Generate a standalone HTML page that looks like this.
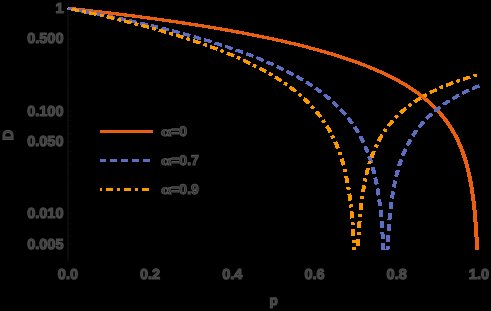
<!DOCTYPE html>
<html><head><meta charset="utf-8">
<title>D vs p</title>
<style>
html,body{margin:0;padding:0;background:#000;}
body{width:491px;height:311px;overflow:hidden;font-family:"Liberation Sans",sans-serif;}
svg{display:block;will-change:transform;}
text{font-family:"Liberation Sans",sans-serif;font-size:14.5px;font-weight:bold;fill:#3c3c3c;stroke:#4b4b4b;stroke-width:1.2px;text-rendering:geometricPrecision;}
.lg text{font-size:14px;fill:#262626;stroke:#525252;stroke-width:1.1px;}
</style></head>
<body>
<svg width="491" height="311" viewBox="0 0 491 311">
<rect width="491" height="311" fill="#000"/>
<!-- y axis + ticks (nearly invisible on black) -->
<g stroke="#0b0b0b" fill="none">
<line x1="68" y1="8" x2="68" y2="261.5" stroke-width="2"/>
<path stroke-width="1" stroke="#080808" d="M69 8.3h4.5M69 110.8h4.5M69 79.9h2.7M69 61.9h2.7M69 49.1h2.7M69 39.2h4.5M69 31.0h2.7M69 24.2h2.7M69 18.2h2.7M69 13.0h2.7M69 213.3h4.5M69 182.4h2.7M69 164.4h2.7M69 151.6h2.7M69 141.7h4.5M69 133.5h2.7M69 126.7h2.7M69 120.7h2.7M69 115.5h2.7M69 244.2h4.5M69 236.0h2.7M69 229.2h2.7M69 223.2h2.7M69 218.0h2.7"/>
</g>
<!-- curves (each drawn twice, offset +-0.4px in x, to mimic the slightly wider horizontal stroke footprint) -->
<g fill="none" stroke-width="3.2" stroke-linejoin="round" shape-rendering="crispEdges">
<g stroke="#EA5F12">
<path transform="translate(-0.4,0)" d="M67.90 8.30 L68.54 8.37 L69.17 8.44 L69.81 8.51 L70.45 8.58 L71.09 8.65 L71.72 8.72 L72.36 8.79 L73.00 8.86 L73.63 8.93 L74.27 9.00 L74.91 9.07 L75.54 9.14 L76.18 9.21 L76.82 9.28 L77.46 9.35 L78.09 9.42 L78.73 9.49 L79.37 9.56 L80.00 9.63 L80.64 9.70 L81.28 9.77 L81.92 9.84 L82.55 9.92 L83.19 9.99 L83.83 10.06 L84.46 10.13 L85.10 10.20 L85.74 10.28 L86.37 10.35 L87.01 10.42 L87.65 10.49 L88.29 10.56 L88.92 10.64 L89.56 10.71 L90.20 10.78 L90.83 10.86 L91.47 10.93 L92.11 11.00 L92.74 11.08 L93.38 11.15 L94.02 11.22 L94.66 11.30 L95.29 11.37 L95.93 11.44 L96.57 11.52 L97.20 11.59 L97.84 11.67 L98.48 11.74 L99.12 11.82 L99.75 11.89 L100.39 11.97 L101.03 12.04 L101.66 12.12 L102.30 12.19 L102.94 12.27 L103.57 12.34 L104.21 12.42 L104.85 12.49 L105.49 12.57 L106.12 12.65 L106.76 12.72 L107.40 12.80 L108.03 12.87 L108.67 12.95 L109.31 13.03 L109.95 13.10 L110.58 13.18 L111.22 13.26 L111.86 13.34 L112.49 13.41 L113.13 13.49 L113.77 13.57 L114.40 13.65 L115.04 13.72 L115.68 13.80 L116.32 13.88 L116.95 13.96 L117.59 14.04 L118.23 14.11 L118.86 14.19 L119.50 14.27 L120.14 14.35 L120.78 14.43 L121.41 14.51 L122.05 14.59 L122.69 14.67 L123.32 14.75 L123.96 14.83 L124.60 14.91 L125.23 14.99 L125.87 15.07 L126.51 15.15 L127.15 15.23 L127.78 15.31 L128.42 15.39 L129.06 15.47 L129.69 15.55 L130.33 15.63 L130.97 15.72 L131.61 15.80 L132.24 15.88 L132.88 15.96 L133.52 16.04 L134.15 16.13 L134.79 16.21 L135.43 16.29 L136.06 16.37 L136.70 16.46 L137.34 16.54 L137.98 16.62 L138.61 16.70 L139.25 16.79 L139.89 16.87 L140.52 16.96 L141.16 17.04 L141.80 17.12 L142.43 17.21 L143.07 17.29 L143.71 17.38 L144.35 17.46 L144.98 17.55 L145.62 17.63 L146.26 17.72 L146.89 17.80 L147.53 17.89 L148.17 17.97 L148.81 18.06 L149.44 18.14 L150.08 18.23 L150.70 18.31 L151.31 18.40 L151.93 18.48 L152.55 18.57 L153.16 18.65 L153.78 18.73 L154.39 18.82 L155.01 18.90 L155.63 18.99 L156.24 19.07 L156.86 19.16 L157.48 19.24 L158.09 19.33 L158.71 19.41 L159.33 19.50 L159.94 19.59 L160.56 19.67 L161.18 19.76 L161.79 19.85 L162.41 19.93 L163.03 20.02 L163.64 20.11 L164.26 20.19 L164.88 20.28 L165.49 20.37 L166.11 20.46 L166.72 20.54 L167.34 20.63 L167.96 20.72 L168.57 20.81 L169.19 20.90 L169.81 20.98 L170.42 21.07 L171.04 21.16 L171.66 21.25 L172.27 21.34 L172.89 21.43 L173.51 21.52 L174.12 21.61 L174.74 21.70 L175.36 21.79 L175.97 21.88 L176.59 21.97 L177.21 22.06 L177.82 22.15 L178.44 22.25 L179.05 22.34 L179.67 22.43 L180.29 22.52 L180.90 22.61 L181.52 22.70 L182.14 22.80 L182.75 22.89 L183.37 22.98 L183.99 23.08 L184.60 23.17 L185.22 23.26 L185.84 23.36 L186.45 23.45 L187.07 23.54 L187.69 23.64 L188.30 23.73 L188.92 23.83 L189.54 23.92 L190.15 24.02 L190.77 24.11 L191.38 24.21 L192.00 24.30 L192.62 24.40 L193.23 24.49 L193.85 24.59 L194.47 24.69 L195.08 24.78 L195.70 24.88 L196.32 24.98 L196.93 25.07 L197.55 25.17 L198.17 25.27 L198.78 25.37 L199.40 25.46 L200.02 25.56 L200.63 25.66 L201.25 25.76 L201.87 25.86 L202.48 25.96 L203.10 26.06 L203.71 26.16 L204.33 26.26 L204.95 26.36 L205.56 26.46 L206.18 26.56 L206.80 26.66 L207.41 26.76 L208.03 26.86 L208.65 26.96 L209.26 27.06 L209.88 27.17 L210.50 27.27 L211.11 27.37 L211.73 27.47 L212.35 27.58 L212.96 27.68 L213.58 27.78 L214.20 27.89 L214.81 27.99 L215.43 28.09 L216.04 28.20 L216.66 28.30 L217.28 28.41 L217.89 28.51 L218.51 28.62 L219.13 28.72 L219.74 28.83 L220.36 28.93 L220.98 29.04 L221.59 29.15 L222.21 29.25 L222.83 29.36 L223.44 29.47 L224.06 29.58 L224.66 29.68 L225.25 29.78 L225.85 29.89 L226.44 29.99 L227.04 30.10 L227.64 30.21 L228.23 30.31 L228.83 30.42 L229.42 30.52 L230.02 30.63 L230.61 30.74 L231.21 30.84 L231.81 30.95 L232.40 31.06 L233.00 31.17 L233.59 31.27 L234.19 31.38 L234.79 31.49 L235.38 31.60 L235.98 31.71 L236.57 31.82 L237.17 31.93 L237.77 32.04 L238.36 32.15 L238.96 32.26 L239.55 32.37 L240.15 32.48 L240.75 32.59 L241.34 32.70 L241.94 32.81 L242.53 32.93 L243.13 33.04 L243.73 33.15 L244.32 33.26 L244.92 33.38 L245.51 33.49 L246.11 33.60 L246.71 33.72 L247.30 33.83 L247.90 33.95 L248.49 34.06 L249.09 34.18 L249.69 34.29 L250.28 34.41 L250.88 34.53 L251.47 34.64 L252.07 34.76 L252.67 34.88 L253.26 34.99 L253.86 35.11 L254.45 35.23 L255.05 35.35 L255.64 35.47 L256.24 35.59 L256.84 35.70 L257.43 35.82 L258.03 35.94 L258.62 36.06 L259.22 36.19 L259.82 36.31 L260.41 36.43 L261.01 36.55 L261.60 36.67 L262.20 36.79 L262.80 36.92 L263.39 37.04 L263.99 37.16 L264.58 37.29 L265.18 37.41 L265.78 37.53 L266.37 37.66 L266.97 37.78 L267.56 37.91 L268.16 38.03 L268.76 38.16 L269.35 38.29 L269.95 38.41 L270.54 38.54 L271.14 38.67 L271.74 38.80 L272.33 38.92 L272.93 39.05 L273.52 39.18 L274.10 39.31 L274.67 39.43 L275.25 39.56 L275.82 39.68 L276.40 39.81 L276.98 39.94 L277.55 40.06 L278.13 40.19 L278.70 40.32 L279.28 40.45 L279.85 40.58 L280.43 40.70 L281.00 40.83 L281.58 40.96 L282.15 41.09 L282.73 41.22 L283.31 41.35 L283.88 41.49 L284.46 41.62 L285.03 41.75 L285.61 41.88 L286.18 42.01 L286.76 42.15 L287.33 42.28 L287.91 42.41 L288.48 42.55 L289.06 42.68 L289.63 42.82 L290.21 42.95 L290.79 43.09 L291.36 43.23 L291.94 43.36 L292.51 43.50 L293.09 43.64 L293.66 43.78 L294.24 43.92 L294.81 44.05 L295.39 44.19 L295.96 44.33 L296.54 44.47 L297.11 44.61 L297.69 44.76 L298.27 44.90 L298.84 45.04 L299.42 45.18 L299.99 45.32 L300.57 45.47 L301.14 45.61 L301.72 45.76 L302.29 45.90 L302.87 46.05 L303.44 46.19 L304.02 46.34 L304.59 46.48 L305.17 46.63 L305.75 46.78 L306.32 46.93 L306.90 47.08 L307.47 47.23 L308.05 47.38 L308.62 47.53 L309.18 47.67 L309.73 47.82 L310.29 47.96 L310.84 48.11 L311.40 48.26 L311.95 48.40 L312.51 48.55 L313.06 48.70 L313.62 48.85 L314.17 49.00 L314.73 49.15 L315.28 49.30 L315.84 49.45 L316.39 49.60 L316.95 49.76 L317.50 49.91 L318.06 50.06 L318.61 50.22 L319.16 50.37 L319.72 50.53 L320.27 50.68 L320.83 50.84 L321.38 50.99 L321.94 51.15 L322.49 51.31 L323.05 51.47 L323.60 51.62 L324.16 51.78 L324.71 51.94 L325.27 52.10 L325.82 52.27 L326.38 52.43 L326.93 52.59 L327.49 52.75 L328.04 52.92 L328.60 53.08 L329.15 53.24 L329.71 53.41 L330.26 53.58 L330.82 53.74 L331.37 53.91 L331.93 54.08 L332.48 54.25 L333.04 54.41 L333.59 54.58 L334.15 54.75 L334.70 54.93 L335.26 55.10 L335.79 55.26 L336.32 55.43 L336.86 55.60 L337.39 55.76 L337.93 55.93 L338.46 56.10 L339.00 56.27 L339.53 56.44 L340.06 56.61 L340.60 56.78 L341.13 56.96 L341.67 57.13 L342.20 57.30 L342.74 57.48 L343.27 57.65 L343.80 57.83 L344.34 58.00 L344.87 58.18 L345.41 58.36 L345.94 58.54 L346.48 58.72 L347.01 58.90 L347.54 59.08 L348.08 59.26 L348.61 59.44 L349.15 59.62 L349.68 59.81 L350.22 59.99 L350.75 60.18 L351.28 60.36 L351.82 60.55 L352.35 60.74 L352.89 60.93 L353.42 61.12 L353.96 61.31 L354.49 61.50 L355.02 61.69 L355.56 61.88 L356.09 62.07 L356.61 62.26 L357.12 62.45 L357.63 62.64 L358.15 62.82 L358.66 63.01 L359.18 63.21 L359.69 63.40 L360.20 63.59 L360.72 63.78 L361.23 63.98 L361.74 64.17 L362.26 64.37 L362.77 64.56 L363.29 64.76 L363.80 64.96 L364.31 65.16 L364.83 65.36 L365.34 65.56 L365.85 65.76 L366.37 65.96 L366.88 66.17 L367.40 66.37 L367.91 66.58 L368.42 66.78 L368.94 66.99 L369.45 67.20 L369.96 67.41 L370.48 67.62 L370.99 67.83 L371.51 68.04 L372.02 68.26 L372.53 68.47 L373.03 68.68 L373.52 68.89 L374.01 69.09 L374.51 69.30 L375.00 69.52 L375.49 69.73 L375.99 69.94 L376.48 70.15 L376.97 70.37 L377.47 70.58 L377.96 70.80 L378.45 71.02 L378.94 71.24 L379.44 71.46 L379.93 71.68 L380.42 71.90 L380.92 72.13 L381.41 72.35 L381.90 72.58 L382.40 72.80 L382.89 73.03 L383.38 73.26 L383.88 73.49 L384.37 73.72 L384.86 73.96 L385.36 74.19 L385.85 74.43 L386.34 74.66 L386.82 74.89 L387.29 75.12 L387.76 75.35 L388.23 75.58 L388.71 75.81 L389.18 76.05 L389.65 76.28 L390.12 76.52 L390.60 76.76 L391.07 77.00 L391.54 77.24 L392.01 77.48 L392.49 77.72 L392.96 77.96 L393.43 78.21 L393.91 78.46 L394.38 78.70 L394.85 78.95 L395.32 79.20 L395.80 79.46 L396.27 79.71 L396.74 79.97 L397.21 80.22 L397.69 80.48 L398.14 80.73 L398.59 80.98 L399.04 81.23 L399.49 81.48 L399.95 81.74 L400.40 81.99 L400.85 82.25 L401.30 82.51 L401.76 82.77 L402.21 83.03 L402.66 83.29 L403.11 83.56 L403.56 83.83 L404.02 84.09 L404.47 84.36 L404.92 84.63 L405.37 84.91 L405.82 85.18 L406.28 85.46 L406.73 85.74 L407.18 86.02 L407.61 86.28 L408.04 86.55 L408.48 86.83 L408.91 87.10 L409.34 87.38 L409.77 87.65 L410.20 87.93 L410.63 88.21 L411.06 88.49 L411.50 88.78 L411.93 89.06 L412.36 89.35 L412.79 89.64 L413.22 89.93 L413.65 90.23 L414.09 90.52 L414.52 90.82 L414.95 91.12 L415.38 91.42 L415.81 91.72 L416.22 92.01 L416.63 92.31 L417.04 92.60 L417.46 92.90 L417.87 93.20 L418.28 93.50 L418.69 93.80 L419.10 94.11 L419.51 94.41 L419.92 94.72 L420.33 95.03 L420.74 95.35 L421.15 95.66 L421.57 95.98 L421.98 96.30 L422.39 96.62 L422.80 96.95 L423.19 97.26 L423.58 97.57 L423.97 97.89 L424.36 98.21 L424.75 98.53 L425.14 98.85 L425.53 99.17 L425.92 99.50 L426.31 99.83 L426.70 100.16 L427.09 100.49 L427.48 100.83 L427.87 101.17 L428.26 101.51 L428.66 101.86 L429.05 102.20 L429.42 102.54 L429.79 102.87 L430.16 103.21 L430.53 103.55 L430.90 103.89 L431.27 104.23 L431.63 104.58 L432.00 104.93 L432.37 105.28 L432.74 105.64 L433.11 105.99 L433.48 106.36 L433.85 106.72 L434.22 107.09 L434.59 107.46 L434.94 107.81 L435.29 108.16 L435.64 108.52 L435.99 108.88 L436.34 109.25 L436.69 109.61 L437.04 109.98 L437.39 110.36 L437.74 110.73 L438.09 111.11 L438.44 111.50 L438.79 111.88 L439.14 112.27 L439.49 112.66 L439.81 113.04 L440.14 113.41 L440.47 113.79 L440.80 114.17 L441.13 114.56 L441.46 114.95 L441.79 115.34 L442.12 115.74 L442.44 116.14 L442.77 116.54 L443.10 116.95 L443.43 117.36 L443.76 117.77 L444.07 118.17 L444.38 118.56 L444.68 118.96 L444.99 119.36 L445.30 119.77 L445.61 120.18 L445.92 120.59 L446.23 121.01 L446.53 121.43 L446.84 121.86 L447.15 122.29 L447.46 122.72 L447.77 123.16 L448.05 123.58 L448.34 123.99 L448.63 124.41 L448.92 124.84 L449.21 125.27 L449.49 125.70 L449.78 126.14 L450.07 126.58 L450.36 127.03 L450.64 127.48 L450.93 127.94 L451.22 128.40 L451.51 128.86 L451.77 129.30 L452.04 129.74 L452.31 130.18 L452.58 130.63 L452.84 131.09 L453.11 131.54 L453.38 132.01 L453.64 132.48 L453.91 132.95 L454.18 133.43 L454.45 133.91 L454.71 134.40 L454.96 134.86 L455.21 135.32 L455.45 135.78 L455.70 136.25 L455.95 136.73 L456.19 137.21 L456.44 137.70 L456.69 138.19 L456.93 138.69 L457.18 139.19 L457.43 139.70 L457.67 140.21 L457.90 140.69 L458.12 141.17 L458.35 141.66 L458.58 142.15 L458.80 142.65 L459.03 143.15 L459.25 143.66 L459.48 144.17 L459.71 144.70 L459.93 145.22 L460.16 145.76 L460.38 146.30 L460.59 146.79 L460.80 147.30 L461.00 147.80 L461.21 148.32 L461.41 148.84 L461.62 149.36 L461.82 149.90 L462.03 150.44 L462.23 150.98 L462.44 151.53 L462.64 152.09 L462.85 152.66 L463.04 153.17 L463.22 153.70 L463.41 154.23 L463.59 154.76 L463.78 155.30 L463.96 155.85 L464.15 156.40 L464.33 156.96 L464.51 157.53 L464.70 158.11 L464.88 158.69 L465.07 159.28 L465.25 159.88 L465.42 160.42 L465.58 160.97 L465.75 161.52 L465.91 162.08 L466.08 162.65 L466.24 163.22 L466.41 163.81 L466.57 164.40 L466.73 164.99 L466.90 165.60 L467.06 166.21 L467.23 166.83 L467.39 167.47 L467.54 168.03 L467.68 168.59 L467.82 169.17 L467.97 169.75 L468.11 170.34 L468.26 170.94 L468.40 171.54 L468.54 172.16 L468.69 172.78 L468.83 173.41 L468.97 174.05 L469.12 174.70 L469.26 175.36 L469.41 176.03 L469.53 176.61 L469.65 177.20 L469.78 177.80 L469.90 178.40 L470.02 179.02 L470.15 179.64 L470.27 180.27 L470.39 180.91 L470.52 181.56 L470.64 182.22 L470.76 182.89 L470.89 183.57 L471.01 184.26 L471.13 184.96 L471.26 185.67 L471.36 186.28 L471.46 186.89 L471.56 187.51 L471.67 188.13 L471.77 188.77 L471.87 189.42 L471.97 190.07 L472.08 190.74 L472.18 191.41 L472.28 192.10 L472.39 192.80 L472.49 193.50 L472.59 194.22 L472.69 194.95 L472.80 195.70 L472.90 196.45 L473.00 197.22 L473.08 197.85 L473.17 198.48 L473.25 199.12 L473.33 199.78 L473.41 200.44 L473.50 201.11 L473.58 201.79 L473.66 202.49 L473.74 203.19 L473.82 203.90 L473.91 204.63 L473.99 205.37 L474.07 206.12 L474.15 206.89 L474.24 207.66 L474.32 208.45 L474.40 209.26 L474.48 210.08 L474.56 210.92 L474.65 211.77 L474.71 212.42 L474.77 213.08 L474.83 213.75 L474.89 214.43 L474.95 215.12 L475.02 215.82 L475.08 216.53 L475.14 217.25 L475.20 217.99 L475.26 218.74 L475.32 219.50 L475.39 220.27 L475.45 221.06 L475.51 221.86 L475.57 222.68 L475.63 223.51 L475.69 224.36 L475.76 225.22 L475.82 226.11 L475.88 227.01 L475.94 227.92 L476.00 228.86 L476.06 229.82 L476.13 230.80 L476.17 231.46 L476.21 232.14 L476.25 232.82 L476.29 233.52 L476.33 234.22 L476.37 234.94 L476.41 235.67 L476.45 236.41 L476.50 237.17 L476.54 237.93 L476.58 238.72 L476.62 239.51 L476.66 240.32 L476.70 241.14 L476.74 241.98 L476.78 242.84 L476.82 243.71 L476.87 244.60 L476.91 245.51 L476.95 246.44 L476.99 247.39 L477.03 248.35 L477.07 249.34 L477.10 250.00"/>
<path transform="translate(0.4,0)" d="M67.90 8.30 L68.54 8.37 L69.17 8.44 L69.81 8.51 L70.45 8.58 L71.09 8.65 L71.72 8.72 L72.36 8.79 L73.00 8.86 L73.63 8.93 L74.27 9.00 L74.91 9.07 L75.54 9.14 L76.18 9.21 L76.82 9.28 L77.46 9.35 L78.09 9.42 L78.73 9.49 L79.37 9.56 L80.00 9.63 L80.64 9.70 L81.28 9.77 L81.92 9.84 L82.55 9.92 L83.19 9.99 L83.83 10.06 L84.46 10.13 L85.10 10.20 L85.74 10.28 L86.37 10.35 L87.01 10.42 L87.65 10.49 L88.29 10.56 L88.92 10.64 L89.56 10.71 L90.20 10.78 L90.83 10.86 L91.47 10.93 L92.11 11.00 L92.74 11.08 L93.38 11.15 L94.02 11.22 L94.66 11.30 L95.29 11.37 L95.93 11.44 L96.57 11.52 L97.20 11.59 L97.84 11.67 L98.48 11.74 L99.12 11.82 L99.75 11.89 L100.39 11.97 L101.03 12.04 L101.66 12.12 L102.30 12.19 L102.94 12.27 L103.57 12.34 L104.21 12.42 L104.85 12.49 L105.49 12.57 L106.12 12.65 L106.76 12.72 L107.40 12.80 L108.03 12.87 L108.67 12.95 L109.31 13.03 L109.95 13.10 L110.58 13.18 L111.22 13.26 L111.86 13.34 L112.49 13.41 L113.13 13.49 L113.77 13.57 L114.40 13.65 L115.04 13.72 L115.68 13.80 L116.32 13.88 L116.95 13.96 L117.59 14.04 L118.23 14.11 L118.86 14.19 L119.50 14.27 L120.14 14.35 L120.78 14.43 L121.41 14.51 L122.05 14.59 L122.69 14.67 L123.32 14.75 L123.96 14.83 L124.60 14.91 L125.23 14.99 L125.87 15.07 L126.51 15.15 L127.15 15.23 L127.78 15.31 L128.42 15.39 L129.06 15.47 L129.69 15.55 L130.33 15.63 L130.97 15.72 L131.61 15.80 L132.24 15.88 L132.88 15.96 L133.52 16.04 L134.15 16.13 L134.79 16.21 L135.43 16.29 L136.06 16.37 L136.70 16.46 L137.34 16.54 L137.98 16.62 L138.61 16.70 L139.25 16.79 L139.89 16.87 L140.52 16.96 L141.16 17.04 L141.80 17.12 L142.43 17.21 L143.07 17.29 L143.71 17.38 L144.35 17.46 L144.98 17.55 L145.62 17.63 L146.26 17.72 L146.89 17.80 L147.53 17.89 L148.17 17.97 L148.81 18.06 L149.44 18.14 L150.08 18.23 L150.70 18.31 L151.31 18.40 L151.93 18.48 L152.55 18.57 L153.16 18.65 L153.78 18.73 L154.39 18.82 L155.01 18.90 L155.63 18.99 L156.24 19.07 L156.86 19.16 L157.48 19.24 L158.09 19.33 L158.71 19.41 L159.33 19.50 L159.94 19.59 L160.56 19.67 L161.18 19.76 L161.79 19.85 L162.41 19.93 L163.03 20.02 L163.64 20.11 L164.26 20.19 L164.88 20.28 L165.49 20.37 L166.11 20.46 L166.72 20.54 L167.34 20.63 L167.96 20.72 L168.57 20.81 L169.19 20.90 L169.81 20.98 L170.42 21.07 L171.04 21.16 L171.66 21.25 L172.27 21.34 L172.89 21.43 L173.51 21.52 L174.12 21.61 L174.74 21.70 L175.36 21.79 L175.97 21.88 L176.59 21.97 L177.21 22.06 L177.82 22.15 L178.44 22.25 L179.05 22.34 L179.67 22.43 L180.29 22.52 L180.90 22.61 L181.52 22.70 L182.14 22.80 L182.75 22.89 L183.37 22.98 L183.99 23.08 L184.60 23.17 L185.22 23.26 L185.84 23.36 L186.45 23.45 L187.07 23.54 L187.69 23.64 L188.30 23.73 L188.92 23.83 L189.54 23.92 L190.15 24.02 L190.77 24.11 L191.38 24.21 L192.00 24.30 L192.62 24.40 L193.23 24.49 L193.85 24.59 L194.47 24.69 L195.08 24.78 L195.70 24.88 L196.32 24.98 L196.93 25.07 L197.55 25.17 L198.17 25.27 L198.78 25.37 L199.40 25.46 L200.02 25.56 L200.63 25.66 L201.25 25.76 L201.87 25.86 L202.48 25.96 L203.10 26.06 L203.71 26.16 L204.33 26.26 L204.95 26.36 L205.56 26.46 L206.18 26.56 L206.80 26.66 L207.41 26.76 L208.03 26.86 L208.65 26.96 L209.26 27.06 L209.88 27.17 L210.50 27.27 L211.11 27.37 L211.73 27.47 L212.35 27.58 L212.96 27.68 L213.58 27.78 L214.20 27.89 L214.81 27.99 L215.43 28.09 L216.04 28.20 L216.66 28.30 L217.28 28.41 L217.89 28.51 L218.51 28.62 L219.13 28.72 L219.74 28.83 L220.36 28.93 L220.98 29.04 L221.59 29.15 L222.21 29.25 L222.83 29.36 L223.44 29.47 L224.06 29.58 L224.66 29.68 L225.25 29.78 L225.85 29.89 L226.44 29.99 L227.04 30.10 L227.64 30.21 L228.23 30.31 L228.83 30.42 L229.42 30.52 L230.02 30.63 L230.61 30.74 L231.21 30.84 L231.81 30.95 L232.40 31.06 L233.00 31.17 L233.59 31.27 L234.19 31.38 L234.79 31.49 L235.38 31.60 L235.98 31.71 L236.57 31.82 L237.17 31.93 L237.77 32.04 L238.36 32.15 L238.96 32.26 L239.55 32.37 L240.15 32.48 L240.75 32.59 L241.34 32.70 L241.94 32.81 L242.53 32.93 L243.13 33.04 L243.73 33.15 L244.32 33.26 L244.92 33.38 L245.51 33.49 L246.11 33.60 L246.71 33.72 L247.30 33.83 L247.90 33.95 L248.49 34.06 L249.09 34.18 L249.69 34.29 L250.28 34.41 L250.88 34.53 L251.47 34.64 L252.07 34.76 L252.67 34.88 L253.26 34.99 L253.86 35.11 L254.45 35.23 L255.05 35.35 L255.64 35.47 L256.24 35.59 L256.84 35.70 L257.43 35.82 L258.03 35.94 L258.62 36.06 L259.22 36.19 L259.82 36.31 L260.41 36.43 L261.01 36.55 L261.60 36.67 L262.20 36.79 L262.80 36.92 L263.39 37.04 L263.99 37.16 L264.58 37.29 L265.18 37.41 L265.78 37.53 L266.37 37.66 L266.97 37.78 L267.56 37.91 L268.16 38.03 L268.76 38.16 L269.35 38.29 L269.95 38.41 L270.54 38.54 L271.14 38.67 L271.74 38.80 L272.33 38.92 L272.93 39.05 L273.52 39.18 L274.10 39.31 L274.67 39.43 L275.25 39.56 L275.82 39.68 L276.40 39.81 L276.98 39.94 L277.55 40.06 L278.13 40.19 L278.70 40.32 L279.28 40.45 L279.85 40.58 L280.43 40.70 L281.00 40.83 L281.58 40.96 L282.15 41.09 L282.73 41.22 L283.31 41.35 L283.88 41.49 L284.46 41.62 L285.03 41.75 L285.61 41.88 L286.18 42.01 L286.76 42.15 L287.33 42.28 L287.91 42.41 L288.48 42.55 L289.06 42.68 L289.63 42.82 L290.21 42.95 L290.79 43.09 L291.36 43.23 L291.94 43.36 L292.51 43.50 L293.09 43.64 L293.66 43.78 L294.24 43.92 L294.81 44.05 L295.39 44.19 L295.96 44.33 L296.54 44.47 L297.11 44.61 L297.69 44.76 L298.27 44.90 L298.84 45.04 L299.42 45.18 L299.99 45.32 L300.57 45.47 L301.14 45.61 L301.72 45.76 L302.29 45.90 L302.87 46.05 L303.44 46.19 L304.02 46.34 L304.59 46.48 L305.17 46.63 L305.75 46.78 L306.32 46.93 L306.90 47.08 L307.47 47.23 L308.05 47.38 L308.62 47.53 L309.18 47.67 L309.73 47.82 L310.29 47.96 L310.84 48.11 L311.40 48.26 L311.95 48.40 L312.51 48.55 L313.06 48.70 L313.62 48.85 L314.17 49.00 L314.73 49.15 L315.28 49.30 L315.84 49.45 L316.39 49.60 L316.95 49.76 L317.50 49.91 L318.06 50.06 L318.61 50.22 L319.16 50.37 L319.72 50.53 L320.27 50.68 L320.83 50.84 L321.38 50.99 L321.94 51.15 L322.49 51.31 L323.05 51.47 L323.60 51.62 L324.16 51.78 L324.71 51.94 L325.27 52.10 L325.82 52.27 L326.38 52.43 L326.93 52.59 L327.49 52.75 L328.04 52.92 L328.60 53.08 L329.15 53.24 L329.71 53.41 L330.26 53.58 L330.82 53.74 L331.37 53.91 L331.93 54.08 L332.48 54.25 L333.04 54.41 L333.59 54.58 L334.15 54.75 L334.70 54.93 L335.26 55.10 L335.79 55.26 L336.32 55.43 L336.86 55.60 L337.39 55.76 L337.93 55.93 L338.46 56.10 L339.00 56.27 L339.53 56.44 L340.06 56.61 L340.60 56.78 L341.13 56.96 L341.67 57.13 L342.20 57.30 L342.74 57.48 L343.27 57.65 L343.80 57.83 L344.34 58.00 L344.87 58.18 L345.41 58.36 L345.94 58.54 L346.48 58.72 L347.01 58.90 L347.54 59.08 L348.08 59.26 L348.61 59.44 L349.15 59.62 L349.68 59.81 L350.22 59.99 L350.75 60.18 L351.28 60.36 L351.82 60.55 L352.35 60.74 L352.89 60.93 L353.42 61.12 L353.96 61.31 L354.49 61.50 L355.02 61.69 L355.56 61.88 L356.09 62.07 L356.61 62.26 L357.12 62.45 L357.63 62.64 L358.15 62.82 L358.66 63.01 L359.18 63.21 L359.69 63.40 L360.20 63.59 L360.72 63.78 L361.23 63.98 L361.74 64.17 L362.26 64.37 L362.77 64.56 L363.29 64.76 L363.80 64.96 L364.31 65.16 L364.83 65.36 L365.34 65.56 L365.85 65.76 L366.37 65.96 L366.88 66.17 L367.40 66.37 L367.91 66.58 L368.42 66.78 L368.94 66.99 L369.45 67.20 L369.96 67.41 L370.48 67.62 L370.99 67.83 L371.51 68.04 L372.02 68.26 L372.53 68.47 L373.03 68.68 L373.52 68.89 L374.01 69.09 L374.51 69.30 L375.00 69.52 L375.49 69.73 L375.99 69.94 L376.48 70.15 L376.97 70.37 L377.47 70.58 L377.96 70.80 L378.45 71.02 L378.94 71.24 L379.44 71.46 L379.93 71.68 L380.42 71.90 L380.92 72.13 L381.41 72.35 L381.90 72.58 L382.40 72.80 L382.89 73.03 L383.38 73.26 L383.88 73.49 L384.37 73.72 L384.86 73.96 L385.36 74.19 L385.85 74.43 L386.34 74.66 L386.82 74.89 L387.29 75.12 L387.76 75.35 L388.23 75.58 L388.71 75.81 L389.18 76.05 L389.65 76.28 L390.12 76.52 L390.60 76.76 L391.07 77.00 L391.54 77.24 L392.01 77.48 L392.49 77.72 L392.96 77.96 L393.43 78.21 L393.91 78.46 L394.38 78.70 L394.85 78.95 L395.32 79.20 L395.80 79.46 L396.27 79.71 L396.74 79.97 L397.21 80.22 L397.69 80.48 L398.14 80.73 L398.59 80.98 L399.04 81.23 L399.49 81.48 L399.95 81.74 L400.40 81.99 L400.85 82.25 L401.30 82.51 L401.76 82.77 L402.21 83.03 L402.66 83.29 L403.11 83.56 L403.56 83.83 L404.02 84.09 L404.47 84.36 L404.92 84.63 L405.37 84.91 L405.82 85.18 L406.28 85.46 L406.73 85.74 L407.18 86.02 L407.61 86.28 L408.04 86.55 L408.48 86.83 L408.91 87.10 L409.34 87.38 L409.77 87.65 L410.20 87.93 L410.63 88.21 L411.06 88.49 L411.50 88.78 L411.93 89.06 L412.36 89.35 L412.79 89.64 L413.22 89.93 L413.65 90.23 L414.09 90.52 L414.52 90.82 L414.95 91.12 L415.38 91.42 L415.81 91.72 L416.22 92.01 L416.63 92.31 L417.04 92.60 L417.46 92.90 L417.87 93.20 L418.28 93.50 L418.69 93.80 L419.10 94.11 L419.51 94.41 L419.92 94.72 L420.33 95.03 L420.74 95.35 L421.15 95.66 L421.57 95.98 L421.98 96.30 L422.39 96.62 L422.80 96.95 L423.19 97.26 L423.58 97.57 L423.97 97.89 L424.36 98.21 L424.75 98.53 L425.14 98.85 L425.53 99.17 L425.92 99.50 L426.31 99.83 L426.70 100.16 L427.09 100.49 L427.48 100.83 L427.87 101.17 L428.26 101.51 L428.66 101.86 L429.05 102.20 L429.42 102.54 L429.79 102.87 L430.16 103.21 L430.53 103.55 L430.90 103.89 L431.27 104.23 L431.63 104.58 L432.00 104.93 L432.37 105.28 L432.74 105.64 L433.11 105.99 L433.48 106.36 L433.85 106.72 L434.22 107.09 L434.59 107.46 L434.94 107.81 L435.29 108.16 L435.64 108.52 L435.99 108.88 L436.34 109.25 L436.69 109.61 L437.04 109.98 L437.39 110.36 L437.74 110.73 L438.09 111.11 L438.44 111.50 L438.79 111.88 L439.14 112.27 L439.49 112.66 L439.81 113.04 L440.14 113.41 L440.47 113.79 L440.80 114.17 L441.13 114.56 L441.46 114.95 L441.79 115.34 L442.12 115.74 L442.44 116.14 L442.77 116.54 L443.10 116.95 L443.43 117.36 L443.76 117.77 L444.07 118.17 L444.38 118.56 L444.68 118.96 L444.99 119.36 L445.30 119.77 L445.61 120.18 L445.92 120.59 L446.23 121.01 L446.53 121.43 L446.84 121.86 L447.15 122.29 L447.46 122.72 L447.77 123.16 L448.05 123.58 L448.34 123.99 L448.63 124.41 L448.92 124.84 L449.21 125.27 L449.49 125.70 L449.78 126.14 L450.07 126.58 L450.36 127.03 L450.64 127.48 L450.93 127.94 L451.22 128.40 L451.51 128.86 L451.77 129.30 L452.04 129.74 L452.31 130.18 L452.58 130.63 L452.84 131.09 L453.11 131.54 L453.38 132.01 L453.64 132.48 L453.91 132.95 L454.18 133.43 L454.45 133.91 L454.71 134.40 L454.96 134.86 L455.21 135.32 L455.45 135.78 L455.70 136.25 L455.95 136.73 L456.19 137.21 L456.44 137.70 L456.69 138.19 L456.93 138.69 L457.18 139.19 L457.43 139.70 L457.67 140.21 L457.90 140.69 L458.12 141.17 L458.35 141.66 L458.58 142.15 L458.80 142.65 L459.03 143.15 L459.25 143.66 L459.48 144.17 L459.71 144.70 L459.93 145.22 L460.16 145.76 L460.38 146.30 L460.59 146.79 L460.80 147.30 L461.00 147.80 L461.21 148.32 L461.41 148.84 L461.62 149.36 L461.82 149.90 L462.03 150.44 L462.23 150.98 L462.44 151.53 L462.64 152.09 L462.85 152.66 L463.04 153.17 L463.22 153.70 L463.41 154.23 L463.59 154.76 L463.78 155.30 L463.96 155.85 L464.15 156.40 L464.33 156.96 L464.51 157.53 L464.70 158.11 L464.88 158.69 L465.07 159.28 L465.25 159.88 L465.42 160.42 L465.58 160.97 L465.75 161.52 L465.91 162.08 L466.08 162.65 L466.24 163.22 L466.41 163.81 L466.57 164.40 L466.73 164.99 L466.90 165.60 L467.06 166.21 L467.23 166.83 L467.39 167.47 L467.54 168.03 L467.68 168.59 L467.82 169.17 L467.97 169.75 L468.11 170.34 L468.26 170.94 L468.40 171.54 L468.54 172.16 L468.69 172.78 L468.83 173.41 L468.97 174.05 L469.12 174.70 L469.26 175.36 L469.41 176.03 L469.53 176.61 L469.65 177.20 L469.78 177.80 L469.90 178.40 L470.02 179.02 L470.15 179.64 L470.27 180.27 L470.39 180.91 L470.52 181.56 L470.64 182.22 L470.76 182.89 L470.89 183.57 L471.01 184.26 L471.13 184.96 L471.26 185.67 L471.36 186.28 L471.46 186.89 L471.56 187.51 L471.67 188.13 L471.77 188.77 L471.87 189.42 L471.97 190.07 L472.08 190.74 L472.18 191.41 L472.28 192.10 L472.39 192.80 L472.49 193.50 L472.59 194.22 L472.69 194.95 L472.80 195.70 L472.90 196.45 L473.00 197.22 L473.08 197.85 L473.17 198.48 L473.25 199.12 L473.33 199.78 L473.41 200.44 L473.50 201.11 L473.58 201.79 L473.66 202.49 L473.74 203.19 L473.82 203.90 L473.91 204.63 L473.99 205.37 L474.07 206.12 L474.15 206.89 L474.24 207.66 L474.32 208.45 L474.40 209.26 L474.48 210.08 L474.56 210.92 L474.65 211.77 L474.71 212.42 L474.77 213.08 L474.83 213.75 L474.89 214.43 L474.95 215.12 L475.02 215.82 L475.08 216.53 L475.14 217.25 L475.20 217.99 L475.26 218.74 L475.32 219.50 L475.39 220.27 L475.45 221.06 L475.51 221.86 L475.57 222.68 L475.63 223.51 L475.69 224.36 L475.76 225.22 L475.82 226.11 L475.88 227.01 L475.94 227.92 L476.00 228.86 L476.06 229.82 L476.13 230.80 L476.17 231.46 L476.21 232.14 L476.25 232.82 L476.29 233.52 L476.33 234.22 L476.37 234.94 L476.41 235.67 L476.45 236.41 L476.50 237.17 L476.54 237.93 L476.58 238.72 L476.62 239.51 L476.66 240.32 L476.70 241.14 L476.74 241.98 L476.78 242.84 L476.82 243.71 L476.87 244.60 L476.91 245.51 L476.95 246.44 L476.99 247.39 L477.03 248.35 L477.07 249.34 L477.10 250.00"/>
</g>
<g stroke="#5D6EC2" stroke-dasharray="7 4.05" stroke-dashoffset="3.4">
<path transform="translate(-0.4,0)" d="M67.90 8.30 L68.50 8.41 L69.09 8.52 L69.69 8.63 L70.28 8.74 L70.88 8.85 L71.48 8.96 L72.07 9.07 L72.67 9.18 L73.26 9.29 L73.86 9.41 L74.46 9.52 L75.05 9.63 L75.65 9.74 L76.24 9.85 L76.84 9.97 L77.44 10.08 L78.03 10.19 L78.63 10.30 L79.22 10.42 L79.82 10.53 L80.41 10.64 L81.01 10.76 L81.61 10.87 L82.20 10.98 L82.80 11.10 L83.39 11.21 L83.99 11.33 L84.59 11.44 L85.18 11.56 L85.78 11.67 L86.37 11.79 L86.97 11.90 L87.57 12.02 L88.16 12.13 L88.76 12.25 L89.35 12.37 L89.95 12.48 L90.55 12.60 L91.14 12.72 L91.74 12.83 L92.33 12.95 L92.93 13.07 L93.53 13.19 L94.12 13.30 L94.72 13.42 L95.31 13.54 L95.91 13.66 L96.51 13.78 L97.10 13.90 L97.70 14.02 L98.29 14.13 L98.89 14.25 L99.49 14.37 L100.08 14.49 L100.68 14.61 L101.27 14.73 L101.87 14.85 L102.47 14.98 L103.06 15.10 L103.66 15.22 L104.25 15.34 L104.85 15.46 L105.44 15.58 L106.04 15.70 L106.64 15.83 L107.23 15.95 L107.83 16.07 L108.42 16.19 L109.02 16.32 L109.62 16.44 L110.21 16.57 L110.81 16.69 L111.40 16.81 L112.00 16.94 L112.60 17.06 L113.19 17.19 L113.79 17.31 L114.38 17.44 L114.98 17.56 L115.58 17.69 L116.17 17.81 L116.77 17.94 L117.36 18.07 L117.96 18.19 L118.56 18.32 L119.15 18.45 L119.75 18.57 L120.34 18.70 L120.94 18.83 L121.54 18.96 L122.13 19.09 L122.73 19.21 L123.32 19.34 L123.92 19.47 L124.49 19.60 L125.07 19.72 L125.65 19.85 L126.22 19.97 L126.80 20.10 L127.37 20.22 L127.95 20.35 L128.52 20.48 L129.10 20.60 L129.67 20.73 L130.25 20.86 L130.82 20.99 L131.40 21.11 L131.97 21.24 L132.55 21.37 L133.13 21.50 L133.70 21.63 L134.28 21.76 L134.85 21.88 L135.43 22.01 L136.00 22.14 L136.58 22.27 L137.15 22.40 L137.73 22.53 L138.30 22.66 L138.88 22.80 L139.46 22.93 L140.03 23.06 L140.61 23.19 L141.18 23.32 L141.76 23.45 L142.33 23.59 L142.91 23.72 L143.48 23.85 L144.06 23.99 L144.63 24.12 L145.21 24.25 L145.78 24.39 L146.36 24.52 L146.94 24.66 L147.51 24.79 L148.09 24.93 L148.66 25.06 L149.24 25.20 L149.81 25.33 L150.39 25.47 L150.96 25.61 L151.54 25.74 L152.11 25.88 L152.69 26.02 L153.26 26.16 L153.84 26.29 L154.42 26.43 L154.99 26.57 L155.57 26.71 L156.14 26.85 L156.72 26.99 L157.29 27.13 L157.87 27.27 L158.44 27.41 L159.02 27.55 L159.59 27.69 L160.17 27.83 L160.74 27.97 L161.32 28.12 L161.90 28.26 L162.47 28.40 L163.05 28.54 L163.62 28.69 L164.20 28.83 L164.77 28.98 L165.35 29.12 L165.92 29.26 L166.50 29.41 L167.07 29.55 L167.65 29.70 L168.23 29.85 L168.80 29.99 L169.38 30.14 L169.95 30.28 L170.53 30.43 L171.10 30.58 L171.68 30.73 L172.25 30.88 L172.83 31.02 L173.40 31.17 L173.98 31.32 L174.55 31.47 L175.13 31.62 L175.71 31.77 L176.26 31.92 L176.81 32.06 L177.37 32.21 L177.92 32.35 L178.48 32.50 L179.03 32.65 L179.59 32.80 L180.14 32.94 L180.70 33.09 L181.25 33.24 L181.81 33.39 L182.36 33.54 L182.92 33.69 L183.47 33.84 L184.03 33.99 L184.58 34.14 L185.14 34.29 L185.69 34.44 L186.25 34.59 L186.80 34.74 L187.36 34.89 L187.91 35.05 L188.47 35.20 L189.02 35.35 L189.58 35.51 L190.13 35.66 L190.69 35.81 L191.24 35.97 L191.80 36.12 L192.35 36.28 L192.91 36.43 L193.46 36.59 L194.02 36.75 L194.57 36.91 L195.13 37.06 L195.68 37.22 L196.23 37.38 L196.79 37.54 L197.34 37.70 L197.90 37.86 L198.45 38.02 L199.01 38.18 L199.56 38.34 L200.12 38.50 L200.67 38.66 L201.23 38.82 L201.78 38.98 L202.34 39.15 L202.89 39.31 L203.45 39.47 L204.00 39.64 L204.56 39.80 L205.11 39.97 L205.67 40.13 L206.22 40.30 L206.78 40.46 L207.33 40.63 L207.89 40.80 L208.44 40.97 L209.00 41.13 L209.55 41.30 L210.11 41.47 L210.66 41.64 L211.22 41.81 L211.77 41.98 L212.33 42.15 L212.88 42.32 L213.44 42.50 L213.97 42.66 L214.50 42.83 L215.04 42.99 L215.57 43.16 L216.11 43.33 L216.64 43.50 L217.18 43.67 L217.71 43.84 L218.24 44.01 L218.78 44.18 L219.31 44.35 L219.85 44.52 L220.38 44.69 L220.92 44.86 L221.45 45.03 L221.98 45.21 L222.52 45.38 L223.05 45.55 L223.59 45.73 L224.12 45.90 L224.66 46.08 L225.19 46.25 L225.72 46.43 L226.26 46.61 L226.79 46.79 L227.33 46.96 L227.86 47.14 L228.40 47.32 L228.93 47.50 L229.46 47.68 L230.00 47.86 L230.53 48.04 L231.07 48.22 L231.60 48.41 L232.14 48.59 L232.67 48.77 L233.20 48.96 L233.74 49.14 L234.27 49.33 L234.81 49.51 L235.34 49.70 L235.88 49.89 L236.41 50.07 L236.94 50.26 L237.48 50.45 L238.01 50.64 L238.55 50.83 L239.08 51.02 L239.62 51.21 L240.15 51.40 L240.68 51.59 L241.22 51.79 L241.75 51.98 L242.27 52.17 L242.78 52.36 L243.29 52.54 L243.81 52.73 L244.32 52.92 L244.84 53.11 L245.35 53.30 L245.86 53.49 L246.38 53.68 L246.89 53.88 L247.40 54.07 L247.92 54.26 L248.43 54.46 L248.95 54.65 L249.46 54.85 L249.97 55.04 L250.49 55.24 L251.00 55.44 L251.51 55.63 L252.03 55.83 L252.54 56.03 L253.06 56.23 L253.57 56.43 L254.08 56.63 L254.60 56.84 L255.11 57.04 L255.62 57.24 L256.14 57.45 L256.65 57.65 L257.17 57.86 L257.68 58.06 L258.19 58.27 L258.71 58.48 L259.22 58.69 L259.73 58.90 L260.25 59.11 L260.76 59.32 L261.28 59.53 L261.79 59.74 L262.30 59.96 L262.82 60.17 L263.33 60.38 L263.82 60.59 L264.32 60.80 L264.81 61.01 L265.30 61.22 L265.80 61.43 L266.29 61.64 L266.78 61.85 L267.28 62.06 L267.77 62.28 L268.26 62.49 L268.76 62.70 L269.25 62.92 L269.74 63.14 L270.24 63.35 L270.73 63.57 L271.22 63.79 L271.71 64.01 L272.21 64.23 L272.70 64.45 L273.19 64.68 L273.69 64.90 L274.18 65.12 L274.67 65.35 L275.17 65.57 L275.66 65.80 L276.15 66.03 L276.65 66.26 L277.14 66.49 L277.63 66.72 L278.13 66.95 L278.62 67.18 L279.11 67.41 L279.61 67.65 L280.10 67.88 L280.59 68.12 L281.07 68.35 L281.54 68.58 L282.01 68.81 L282.48 69.04 L282.96 69.27 L283.43 69.50 L283.90 69.73 L284.37 69.97 L284.85 70.20 L285.32 70.44 L285.79 70.67 L286.26 70.91 L286.74 71.15 L287.21 71.39 L287.68 71.63 L288.15 71.88 L288.63 72.12 L289.10 72.36 L289.57 72.61 L290.05 72.86 L290.52 73.10 L290.99 73.35 L291.46 73.60 L291.94 73.85 L292.41 74.11 L292.88 74.36 L293.35 74.61 L293.83 74.87 L294.30 75.13 L294.77 75.39 L295.22 75.63 L295.68 75.88 L296.13 76.13 L296.58 76.38 L297.03 76.64 L297.48 76.89 L297.94 77.15 L298.39 77.40 L298.84 77.66 L299.29 77.92 L299.75 78.18 L300.20 78.44 L300.65 78.70 L301.10 78.97 L301.55 79.23 L302.01 79.50 L302.46 79.77 L302.91 80.04 L303.36 80.31 L303.81 80.58 L304.27 80.85 L304.72 81.13 L305.17 81.40 L305.62 81.68 L306.07 81.96 L306.53 82.24 L306.96 82.51 L307.39 82.78 L307.82 83.05 L308.25 83.32 L308.68 83.60 L309.12 83.87 L309.55 84.15 L309.98 84.43 L310.41 84.71 L310.84 84.99 L311.27 85.27 L311.71 85.56 L312.14 85.85 L312.57 86.13 L313.00 86.42 L313.43 86.71 L313.86 87.01 L314.29 87.30 L314.73 87.60 L315.16 87.89 L315.59 88.19 L316.02 88.49 L316.45 88.80 L316.86 89.09 L317.27 89.38 L317.69 89.67 L318.10 89.97 L318.51 90.26 L318.92 90.56 L319.33 90.86 L319.74 91.16 L320.15 91.47 L320.56 91.77 L320.97 92.08 L321.38 92.39 L321.80 92.70 L322.21 93.01 L322.62 93.33 L323.03 93.64 L323.44 93.96 L323.85 94.28 L324.26 94.60 L324.67 94.93 L325.06 95.24 L325.45 95.55 L325.84 95.86 L326.23 96.18 L326.62 96.50 L327.01 96.82 L327.41 97.14 L327.80 97.46 L328.19 97.79 L328.58 98.12 L328.97 98.45 L329.36 98.78 L329.75 99.11 L330.14 99.45 L330.53 99.79 L330.92 100.13 L331.31 100.47 L331.70 100.82 L332.09 101.16 L332.46 101.50 L332.83 101.83 L333.20 102.17 L333.57 102.51 L333.94 102.85 L334.31 103.19 L334.68 103.53 L335.05 103.88 L335.42 104.23 L335.79 104.59 L336.16 104.94 L336.53 105.30 L336.90 105.66 L337.27 106.02 L337.64 106.39 L338.01 106.75 L338.38 107.13 L338.73 107.48 L339.08 107.83 L339.43 108.19 L339.78 108.55 L340.13 108.91 L340.48 109.28 L340.82 109.65 L341.17 110.02 L341.52 110.39 L341.87 110.77 L342.22 111.15 L342.57 111.53 L342.92 111.92 L343.27 112.31 L343.62 112.70 L343.95 113.07 L344.28 113.44 L344.61 113.82 L344.93 114.20 L345.26 114.58 L345.59 114.97 L345.92 115.36 L346.25 115.75 L346.58 116.15 L346.91 116.54 L347.24 116.95 L347.56 117.35 L347.89 117.76 L348.22 118.17 L348.55 118.59 L348.86 118.98 L349.17 119.37 L349.48 119.77 L349.78 120.17 L350.09 120.58 L350.40 120.99 L350.71 121.40 L351.02 121.82 L351.33 122.24 L351.63 122.66 L351.94 123.09 L352.25 123.52 L352.56 123.95 L352.87 124.39 L353.15 124.80 L353.44 125.22 L353.73 125.64 L354.02 126.06 L354.31 126.49 L354.59 126.92 L354.88 127.36 L355.17 127.80 L355.46 128.24 L355.74 128.69 L356.03 129.14 L356.32 129.59 L356.61 130.05 L356.89 130.52 L357.16 130.95 L357.43 131.39 L357.70 131.83 L357.96 132.28 L358.23 132.73 L358.50 133.19 L358.76 133.65 L359.03 134.12 L359.30 134.58 L359.57 135.06 L359.83 135.54 L360.10 136.02 L360.37 136.51 L360.61 136.97 L360.86 137.43 L361.11 137.89 L361.35 138.36 L361.60 138.83 L361.85 139.31 L362.09 139.80 L362.34 140.28 L362.59 140.78 L362.83 141.28 L363.08 141.78 L363.33 142.29 L363.57 142.80 L363.80 143.28 L364.03 143.76 L364.25 144.25 L364.48 144.74 L364.70 145.24 L364.93 145.74 L365.16 146.25 L365.38 146.76 L365.61 147.28 L365.83 147.81 L366.06 148.34 L366.29 148.87 L366.51 149.42 L366.72 149.92 L366.92 150.42 L367.13 150.93 L367.33 151.45 L367.54 151.97 L367.75 152.50 L367.95 153.03 L368.16 153.57 L368.36 154.12 L368.57 154.67 L368.77 155.23 L368.98 155.79 L369.16 156.31 L369.35 156.83 L369.53 157.36 L369.72 157.89 L369.90 158.43 L370.09 158.97 L370.27 159.52 L370.46 160.08 L370.64 160.65 L370.83 161.22 L371.01 161.80 L371.20 162.39 L371.38 162.98 L371.57 163.58 L371.73 164.13 L371.90 164.67 L372.06 165.23 L372.22 165.79 L372.39 166.36 L372.55 166.93 L372.72 167.52 L372.88 168.11 L373.05 168.70 L373.21 169.31 L373.38 169.92 L373.54 170.55 L373.70 171.18 L373.85 171.74 L373.99 172.30 L374.14 172.88 L374.28 173.46 L374.42 174.04 L374.57 174.64 L374.71 175.24 L374.86 175.85 L375.00 176.47 L375.14 177.10 L375.29 177.74 L375.43 178.38 L375.57 179.04 L375.72 179.70 L375.84 180.28 L375.97 180.86 L376.09 181.46 L376.21 182.06 L376.33 182.66 L376.46 183.28 L376.58 183.90 L376.70 184.54 L376.83 185.18 L376.95 185.83 L377.07 186.49 L377.20 187.16 L377.32 187.84 L377.44 188.53 L377.57 189.23 L377.69 189.95 L377.79 190.55 L377.90 191.16 L378.00 191.78 L378.10 192.41 L378.21 193.04 L378.31 193.69 L378.41 194.34 L378.51 195.01 L378.62 195.68 L378.72 196.36 L378.82 197.06 L378.92 197.76 L379.03 198.48 L379.13 199.21 L379.23 199.95 L379.34 200.70 L379.44 201.46 L379.52 202.08 L379.60 202.71 L379.68 203.35 L379.77 204.00 L379.85 204.66 L379.93 205.33 L380.01 206.00 L380.10 206.69 L380.18 207.39 L380.26 208.10 L380.34 208.82 L380.42 209.55 L380.51 210.29 L380.59 211.05 L380.67 211.82 L380.75 212.60 L380.84 213.40 L380.92 214.21 L381.00 215.03 L381.08 215.87 L381.14 216.52 L381.21 217.17 L381.27 217.83 L381.33 218.50 L381.39 219.18 L381.45 219.87 L381.51 220.57 L381.58 221.28 L381.64 222.00 L381.70 222.74 L381.76 223.49 L381.82 224.25 L381.88 225.02 L381.95 225.81 L382.01 226.61 L382.07 227.42 L382.13 228.25 L382.19 229.10 L382.25 229.96 L382.32 230.84 L382.38 231.74 L382.44 232.65 L382.50 233.59 L382.56 234.54 L382.62 235.52 L382.66 236.18 L382.71 236.85 L382.75 237.53 L382.79 238.22 L382.83 238.93 L382.87 239.64 L382.91 240.37 L382.95 241.11 L382.99 241.86 L383.03 242.62 L383.08 243.40 L383.12 244.19 L383.16 244.99 L383.20 245.81 L383.24 246.64 L383.28 247.49 L383.32 248.36 L383.36 249.24 L383.40 250.00 M387.45 250.00 L387.49 249.12 L387.53 248.25 L387.58 247.39 L387.62 246.56 L387.66 245.73 L387.70 244.93 L387.74 244.13 L387.78 243.35 L387.82 242.59 L387.86 241.84 L387.90 241.10 L387.95 240.37 L387.99 239.65 L388.03 238.95 L388.07 238.26 L388.11 237.57 L388.15 236.90 L388.19 236.24 L388.25 235.27 L388.32 234.31 L388.38 233.38 L388.44 232.46 L388.50 231.57 L388.56 230.69 L388.62 229.83 L388.69 228.98 L388.75 228.16 L388.81 227.34 L388.87 226.54 L388.93 225.76 L388.99 224.99 L389.06 224.23 L389.12 223.49 L389.18 222.76 L389.24 222.04 L389.30 221.33 L389.36 220.63 L389.43 219.94 L389.49 219.27 L389.55 218.60 L389.61 217.95 L389.67 217.30 L389.75 216.45 L389.84 215.62 L389.92 214.81 L390.00 214.01 L390.08 213.22 L390.17 212.45 L390.25 211.69 L390.33 210.94 L390.41 210.21 L390.49 209.49 L390.58 208.78 L390.66 208.08 L390.74 207.39 L390.82 206.71 L390.90 206.05 L390.99 205.39 L391.07 204.74 L391.15 204.11 L391.23 203.48 L391.32 202.86 L391.42 202.09 L391.52 201.35 L391.62 200.61 L391.73 199.88 L391.83 199.17 L391.93 198.47 L392.04 197.78 L392.14 197.10 L392.24 196.43 L392.34 195.77 L392.45 195.12 L392.55 194.48 L392.65 193.85 L392.75 193.23 L392.86 192.62 L392.96 192.02 L393.08 191.30 L393.21 190.60 L393.33 189.91 L393.45 189.23 L393.58 188.56 L393.70 187.90 L393.82 187.25 L393.95 186.61 L394.07 185.98 L394.19 185.35 L394.32 184.74 L394.44 184.14 L394.56 183.54 L394.69 182.95 L394.81 182.37 L394.95 181.70 L395.10 181.05 L395.24 180.40 L395.38 179.76 L395.53 179.13 L395.67 178.51 L395.82 177.90 L395.96 177.30 L396.10 176.71 L396.25 176.12 L396.39 175.54 L396.54 174.97 L396.68 174.41 L396.84 173.77 L397.01 173.15 L397.17 172.53 L397.34 171.92 L397.50 171.33 L397.67 170.73 L397.83 170.15 L397.99 169.58 L398.16 169.01 L398.32 168.45 L398.49 167.90 L398.65 167.35 L398.82 166.81 L399.00 166.21 L399.19 165.62 L399.37 165.04 L399.56 164.47 L399.74 163.90 L399.93 163.34 L400.11 162.79 L400.30 162.24 L400.48 161.71 L400.67 161.18 L400.85 160.65 L401.04 160.13 L401.24 159.56 L401.45 159.00 L401.65 158.45 L401.86 157.90 L402.06 157.36 L402.27 156.83 L402.47 156.30 L402.68 155.78 L402.89 155.27 L403.09 154.76 L403.30 154.26 L403.50 153.77 L403.73 153.23 L403.95 152.70 L404.18 152.17 L404.41 151.66 L404.63 151.14 L404.86 150.64 L405.08 150.14 L405.31 149.64 L405.54 149.16 L405.76 148.67 L405.99 148.20 L406.24 147.68 L406.48 147.17 L406.73 146.67 L406.98 146.18 L407.22 145.69 L407.47 145.20 L407.71 144.72 L407.96 144.25 L408.21 143.78 L408.45 143.32 L408.70 142.86 L408.97 142.37 L409.24 141.89 L409.50 141.41 L409.77 140.93 L410.04 140.47 L410.30 140.00 L410.57 139.55 L410.84 139.09 L411.11 138.65 L411.37 138.20 L411.64 137.76 L411.91 137.33 L412.19 136.87 L412.48 136.41 L412.77 135.96 L413.06 135.51 L413.35 135.07 L413.63 134.64 L413.92 134.20 L414.21 133.78 L414.50 133.35 L414.78 132.93 L415.07 132.52 L415.38 132.08 L415.69 131.64 L416.00 131.21 L416.30 130.79 L416.61 130.37 L416.92 129.95 L417.23 129.54 L417.54 129.13 L417.85 128.72 L418.15 128.32 L418.46 127.93 L418.77 127.53 L419.10 127.12 L419.43 126.71 L419.76 126.30 L420.09 125.90 L420.41 125.50 L420.74 125.11 L421.07 124.72 L421.40 124.33 L421.73 123.95 L422.06 123.57 L422.39 123.19 L422.72 122.82 L423.07 122.43 L423.41 122.04 L423.76 121.66 L424.11 121.28 L424.46 120.90 L424.81 120.53 L425.16 120.16 L425.51 119.79 L425.86 119.43 L426.21 119.07 L426.56 118.72 L426.91 118.36 L427.28 117.99 L427.65 117.63 L428.02 117.26 L428.39 116.90 L428.76 116.55 L429.13 116.20 L429.50 115.85 L429.87 115.50 L430.24 115.15 L430.61 114.81 L430.98 114.48 L431.35 114.14 L431.72 113.81 L432.11 113.46 L432.50 113.12 L432.89 112.78 L433.28 112.44 L433.67 112.11 L434.06 111.77 L434.45 111.44 L434.84 111.12 L435.23 110.80 L435.62 110.47 L436.01 110.16 L436.40 109.84 L436.79 109.53 L437.18 109.22 L437.59 108.89 L438.01 108.57 L438.42 108.26 L438.83 107.94 L439.24 107.63 L439.65 107.32 L440.06 107.01 L440.47 106.71 L440.88 106.40 L441.29 106.10 L441.70 105.80 L442.12 105.51 L442.53 105.22 L442.94 104.93 L443.37 104.62 L443.80 104.32 L444.23 104.03 L444.66 103.73 L445.10 103.44 L445.53 103.15 L445.96 102.86 L446.39 102.57 L446.82 102.29 L447.25 102.01 L447.68 101.73 L448.12 101.45 L448.55 101.18 L448.98 100.90 L449.41 100.63 L449.84 100.36 L450.29 100.08 L450.75 99.81 L451.20 99.53 L451.65 99.26 L452.10 98.99 L452.55 98.72 L453.01 98.45 L453.46 98.19 L453.91 97.93 L454.36 97.66 L454.82 97.41 L455.27 97.15 L455.72 96.89 L456.17 96.64 L456.62 96.39 L457.08 96.14 L457.55 95.88 L458.02 95.62 L458.49 95.37 L458.97 95.12 L459.44 94.86 L459.91 94.61 L460.38 94.37 L460.86 94.12 L461.33 93.88 L461.80 93.63 L462.28 93.39 L462.75 93.15 L463.22 92.92 L463.69 92.68 L464.17 92.45 L464.64 92.22 L465.11 91.99 L465.58 91.76 L466.06 91.53 L466.55 91.29 L467.04 91.06 L467.54 90.83 L468.03 90.60 L468.52 90.37 L469.02 90.14 L469.51 89.91 L470.00 89.69 L470.50 89.47 L470.99 89.24 L471.48 89.02 L471.97 88.81 L472.47 88.59 L472.96 88.37 L473.45 88.16 L473.95 87.95 L474.44 87.74 L474.93 87.53 L475.43 87.32 L475.92 87.11 L476.43 86.90 L476.95 86.68 L477.46 86.47 L477.98 86.26 L478.49 86.05 L478.90 85.89"/>
<path transform="translate(0.4,0)" d="M67.90 8.30 L68.50 8.41 L69.09 8.52 L69.69 8.63 L70.28 8.74 L70.88 8.85 L71.48 8.96 L72.07 9.07 L72.67 9.18 L73.26 9.29 L73.86 9.41 L74.46 9.52 L75.05 9.63 L75.65 9.74 L76.24 9.85 L76.84 9.97 L77.44 10.08 L78.03 10.19 L78.63 10.30 L79.22 10.42 L79.82 10.53 L80.41 10.64 L81.01 10.76 L81.61 10.87 L82.20 10.98 L82.80 11.10 L83.39 11.21 L83.99 11.33 L84.59 11.44 L85.18 11.56 L85.78 11.67 L86.37 11.79 L86.97 11.90 L87.57 12.02 L88.16 12.13 L88.76 12.25 L89.35 12.37 L89.95 12.48 L90.55 12.60 L91.14 12.72 L91.74 12.83 L92.33 12.95 L92.93 13.07 L93.53 13.19 L94.12 13.30 L94.72 13.42 L95.31 13.54 L95.91 13.66 L96.51 13.78 L97.10 13.90 L97.70 14.02 L98.29 14.13 L98.89 14.25 L99.49 14.37 L100.08 14.49 L100.68 14.61 L101.27 14.73 L101.87 14.85 L102.47 14.98 L103.06 15.10 L103.66 15.22 L104.25 15.34 L104.85 15.46 L105.44 15.58 L106.04 15.70 L106.64 15.83 L107.23 15.95 L107.83 16.07 L108.42 16.19 L109.02 16.32 L109.62 16.44 L110.21 16.57 L110.81 16.69 L111.40 16.81 L112.00 16.94 L112.60 17.06 L113.19 17.19 L113.79 17.31 L114.38 17.44 L114.98 17.56 L115.58 17.69 L116.17 17.81 L116.77 17.94 L117.36 18.07 L117.96 18.19 L118.56 18.32 L119.15 18.45 L119.75 18.57 L120.34 18.70 L120.94 18.83 L121.54 18.96 L122.13 19.09 L122.73 19.21 L123.32 19.34 L123.92 19.47 L124.49 19.60 L125.07 19.72 L125.65 19.85 L126.22 19.97 L126.80 20.10 L127.37 20.22 L127.95 20.35 L128.52 20.48 L129.10 20.60 L129.67 20.73 L130.25 20.86 L130.82 20.99 L131.40 21.11 L131.97 21.24 L132.55 21.37 L133.13 21.50 L133.70 21.63 L134.28 21.76 L134.85 21.88 L135.43 22.01 L136.00 22.14 L136.58 22.27 L137.15 22.40 L137.73 22.53 L138.30 22.66 L138.88 22.80 L139.46 22.93 L140.03 23.06 L140.61 23.19 L141.18 23.32 L141.76 23.45 L142.33 23.59 L142.91 23.72 L143.48 23.85 L144.06 23.99 L144.63 24.12 L145.21 24.25 L145.78 24.39 L146.36 24.52 L146.94 24.66 L147.51 24.79 L148.09 24.93 L148.66 25.06 L149.24 25.20 L149.81 25.33 L150.39 25.47 L150.96 25.61 L151.54 25.74 L152.11 25.88 L152.69 26.02 L153.26 26.16 L153.84 26.29 L154.42 26.43 L154.99 26.57 L155.57 26.71 L156.14 26.85 L156.72 26.99 L157.29 27.13 L157.87 27.27 L158.44 27.41 L159.02 27.55 L159.59 27.69 L160.17 27.83 L160.74 27.97 L161.32 28.12 L161.90 28.26 L162.47 28.40 L163.05 28.54 L163.62 28.69 L164.20 28.83 L164.77 28.98 L165.35 29.12 L165.92 29.26 L166.50 29.41 L167.07 29.55 L167.65 29.70 L168.23 29.85 L168.80 29.99 L169.38 30.14 L169.95 30.28 L170.53 30.43 L171.10 30.58 L171.68 30.73 L172.25 30.88 L172.83 31.02 L173.40 31.17 L173.98 31.32 L174.55 31.47 L175.13 31.62 L175.71 31.77 L176.26 31.92 L176.81 32.06 L177.37 32.21 L177.92 32.35 L178.48 32.50 L179.03 32.65 L179.59 32.80 L180.14 32.94 L180.70 33.09 L181.25 33.24 L181.81 33.39 L182.36 33.54 L182.92 33.69 L183.47 33.84 L184.03 33.99 L184.58 34.14 L185.14 34.29 L185.69 34.44 L186.25 34.59 L186.80 34.74 L187.36 34.89 L187.91 35.05 L188.47 35.20 L189.02 35.35 L189.58 35.51 L190.13 35.66 L190.69 35.81 L191.24 35.97 L191.80 36.12 L192.35 36.28 L192.91 36.43 L193.46 36.59 L194.02 36.75 L194.57 36.91 L195.13 37.06 L195.68 37.22 L196.23 37.38 L196.79 37.54 L197.34 37.70 L197.90 37.86 L198.45 38.02 L199.01 38.18 L199.56 38.34 L200.12 38.50 L200.67 38.66 L201.23 38.82 L201.78 38.98 L202.34 39.15 L202.89 39.31 L203.45 39.47 L204.00 39.64 L204.56 39.80 L205.11 39.97 L205.67 40.13 L206.22 40.30 L206.78 40.46 L207.33 40.63 L207.89 40.80 L208.44 40.97 L209.00 41.13 L209.55 41.30 L210.11 41.47 L210.66 41.64 L211.22 41.81 L211.77 41.98 L212.33 42.15 L212.88 42.32 L213.44 42.50 L213.97 42.66 L214.50 42.83 L215.04 42.99 L215.57 43.16 L216.11 43.33 L216.64 43.50 L217.18 43.67 L217.71 43.84 L218.24 44.01 L218.78 44.18 L219.31 44.35 L219.85 44.52 L220.38 44.69 L220.92 44.86 L221.45 45.03 L221.98 45.21 L222.52 45.38 L223.05 45.55 L223.59 45.73 L224.12 45.90 L224.66 46.08 L225.19 46.25 L225.72 46.43 L226.26 46.61 L226.79 46.79 L227.33 46.96 L227.86 47.14 L228.40 47.32 L228.93 47.50 L229.46 47.68 L230.00 47.86 L230.53 48.04 L231.07 48.22 L231.60 48.41 L232.14 48.59 L232.67 48.77 L233.20 48.96 L233.74 49.14 L234.27 49.33 L234.81 49.51 L235.34 49.70 L235.88 49.89 L236.41 50.07 L236.94 50.26 L237.48 50.45 L238.01 50.64 L238.55 50.83 L239.08 51.02 L239.62 51.21 L240.15 51.40 L240.68 51.59 L241.22 51.79 L241.75 51.98 L242.27 52.17 L242.78 52.36 L243.29 52.54 L243.81 52.73 L244.32 52.92 L244.84 53.11 L245.35 53.30 L245.86 53.49 L246.38 53.68 L246.89 53.88 L247.40 54.07 L247.92 54.26 L248.43 54.46 L248.95 54.65 L249.46 54.85 L249.97 55.04 L250.49 55.24 L251.00 55.44 L251.51 55.63 L252.03 55.83 L252.54 56.03 L253.06 56.23 L253.57 56.43 L254.08 56.63 L254.60 56.84 L255.11 57.04 L255.62 57.24 L256.14 57.45 L256.65 57.65 L257.17 57.86 L257.68 58.06 L258.19 58.27 L258.71 58.48 L259.22 58.69 L259.73 58.90 L260.25 59.11 L260.76 59.32 L261.28 59.53 L261.79 59.74 L262.30 59.96 L262.82 60.17 L263.33 60.38 L263.82 60.59 L264.32 60.80 L264.81 61.01 L265.30 61.22 L265.80 61.43 L266.29 61.64 L266.78 61.85 L267.28 62.06 L267.77 62.28 L268.26 62.49 L268.76 62.70 L269.25 62.92 L269.74 63.14 L270.24 63.35 L270.73 63.57 L271.22 63.79 L271.71 64.01 L272.21 64.23 L272.70 64.45 L273.19 64.68 L273.69 64.90 L274.18 65.12 L274.67 65.35 L275.17 65.57 L275.66 65.80 L276.15 66.03 L276.65 66.26 L277.14 66.49 L277.63 66.72 L278.13 66.95 L278.62 67.18 L279.11 67.41 L279.61 67.65 L280.10 67.88 L280.59 68.12 L281.07 68.35 L281.54 68.58 L282.01 68.81 L282.48 69.04 L282.96 69.27 L283.43 69.50 L283.90 69.73 L284.37 69.97 L284.85 70.20 L285.32 70.44 L285.79 70.67 L286.26 70.91 L286.74 71.15 L287.21 71.39 L287.68 71.63 L288.15 71.88 L288.63 72.12 L289.10 72.36 L289.57 72.61 L290.05 72.86 L290.52 73.10 L290.99 73.35 L291.46 73.60 L291.94 73.85 L292.41 74.11 L292.88 74.36 L293.35 74.61 L293.83 74.87 L294.30 75.13 L294.77 75.39 L295.22 75.63 L295.68 75.88 L296.13 76.13 L296.58 76.38 L297.03 76.64 L297.48 76.89 L297.94 77.15 L298.39 77.40 L298.84 77.66 L299.29 77.92 L299.75 78.18 L300.20 78.44 L300.65 78.70 L301.10 78.97 L301.55 79.23 L302.01 79.50 L302.46 79.77 L302.91 80.04 L303.36 80.31 L303.81 80.58 L304.27 80.85 L304.72 81.13 L305.17 81.40 L305.62 81.68 L306.07 81.96 L306.53 82.24 L306.96 82.51 L307.39 82.78 L307.82 83.05 L308.25 83.32 L308.68 83.60 L309.12 83.87 L309.55 84.15 L309.98 84.43 L310.41 84.71 L310.84 84.99 L311.27 85.27 L311.71 85.56 L312.14 85.85 L312.57 86.13 L313.00 86.42 L313.43 86.71 L313.86 87.01 L314.29 87.30 L314.73 87.60 L315.16 87.89 L315.59 88.19 L316.02 88.49 L316.45 88.80 L316.86 89.09 L317.27 89.38 L317.69 89.67 L318.10 89.97 L318.51 90.26 L318.92 90.56 L319.33 90.86 L319.74 91.16 L320.15 91.47 L320.56 91.77 L320.97 92.08 L321.38 92.39 L321.80 92.70 L322.21 93.01 L322.62 93.33 L323.03 93.64 L323.44 93.96 L323.85 94.28 L324.26 94.60 L324.67 94.93 L325.06 95.24 L325.45 95.55 L325.84 95.86 L326.23 96.18 L326.62 96.50 L327.01 96.82 L327.41 97.14 L327.80 97.46 L328.19 97.79 L328.58 98.12 L328.97 98.45 L329.36 98.78 L329.75 99.11 L330.14 99.45 L330.53 99.79 L330.92 100.13 L331.31 100.47 L331.70 100.82 L332.09 101.16 L332.46 101.50 L332.83 101.83 L333.20 102.17 L333.57 102.51 L333.94 102.85 L334.31 103.19 L334.68 103.53 L335.05 103.88 L335.42 104.23 L335.79 104.59 L336.16 104.94 L336.53 105.30 L336.90 105.66 L337.27 106.02 L337.64 106.39 L338.01 106.75 L338.38 107.13 L338.73 107.48 L339.08 107.83 L339.43 108.19 L339.78 108.55 L340.13 108.91 L340.48 109.28 L340.82 109.65 L341.17 110.02 L341.52 110.39 L341.87 110.77 L342.22 111.15 L342.57 111.53 L342.92 111.92 L343.27 112.31 L343.62 112.70 L343.95 113.07 L344.28 113.44 L344.61 113.82 L344.93 114.20 L345.26 114.58 L345.59 114.97 L345.92 115.36 L346.25 115.75 L346.58 116.15 L346.91 116.54 L347.24 116.95 L347.56 117.35 L347.89 117.76 L348.22 118.17 L348.55 118.59 L348.86 118.98 L349.17 119.37 L349.48 119.77 L349.78 120.17 L350.09 120.58 L350.40 120.99 L350.71 121.40 L351.02 121.82 L351.33 122.24 L351.63 122.66 L351.94 123.09 L352.25 123.52 L352.56 123.95 L352.87 124.39 L353.15 124.80 L353.44 125.22 L353.73 125.64 L354.02 126.06 L354.31 126.49 L354.59 126.92 L354.88 127.36 L355.17 127.80 L355.46 128.24 L355.74 128.69 L356.03 129.14 L356.32 129.59 L356.61 130.05 L356.89 130.52 L357.16 130.95 L357.43 131.39 L357.70 131.83 L357.96 132.28 L358.23 132.73 L358.50 133.19 L358.76 133.65 L359.03 134.12 L359.30 134.58 L359.57 135.06 L359.83 135.54 L360.10 136.02 L360.37 136.51 L360.61 136.97 L360.86 137.43 L361.11 137.89 L361.35 138.36 L361.60 138.83 L361.85 139.31 L362.09 139.80 L362.34 140.28 L362.59 140.78 L362.83 141.28 L363.08 141.78 L363.33 142.29 L363.57 142.80 L363.80 143.28 L364.03 143.76 L364.25 144.25 L364.48 144.74 L364.70 145.24 L364.93 145.74 L365.16 146.25 L365.38 146.76 L365.61 147.28 L365.83 147.81 L366.06 148.34 L366.29 148.87 L366.51 149.42 L366.72 149.92 L366.92 150.42 L367.13 150.93 L367.33 151.45 L367.54 151.97 L367.75 152.50 L367.95 153.03 L368.16 153.57 L368.36 154.12 L368.57 154.67 L368.77 155.23 L368.98 155.79 L369.16 156.31 L369.35 156.83 L369.53 157.36 L369.72 157.89 L369.90 158.43 L370.09 158.97 L370.27 159.52 L370.46 160.08 L370.64 160.65 L370.83 161.22 L371.01 161.80 L371.20 162.39 L371.38 162.98 L371.57 163.58 L371.73 164.13 L371.90 164.67 L372.06 165.23 L372.22 165.79 L372.39 166.36 L372.55 166.93 L372.72 167.52 L372.88 168.11 L373.05 168.70 L373.21 169.31 L373.38 169.92 L373.54 170.55 L373.70 171.18 L373.85 171.74 L373.99 172.30 L374.14 172.88 L374.28 173.46 L374.42 174.04 L374.57 174.64 L374.71 175.24 L374.86 175.85 L375.00 176.47 L375.14 177.10 L375.29 177.74 L375.43 178.38 L375.57 179.04 L375.72 179.70 L375.84 180.28 L375.97 180.86 L376.09 181.46 L376.21 182.06 L376.33 182.66 L376.46 183.28 L376.58 183.90 L376.70 184.54 L376.83 185.18 L376.95 185.83 L377.07 186.49 L377.20 187.16 L377.32 187.84 L377.44 188.53 L377.57 189.23 L377.69 189.95 L377.79 190.55 L377.90 191.16 L378.00 191.78 L378.10 192.41 L378.21 193.04 L378.31 193.69 L378.41 194.34 L378.51 195.01 L378.62 195.68 L378.72 196.36 L378.82 197.06 L378.92 197.76 L379.03 198.48 L379.13 199.21 L379.23 199.95 L379.34 200.70 L379.44 201.46 L379.52 202.08 L379.60 202.71 L379.68 203.35 L379.77 204.00 L379.85 204.66 L379.93 205.33 L380.01 206.00 L380.10 206.69 L380.18 207.39 L380.26 208.10 L380.34 208.82 L380.42 209.55 L380.51 210.29 L380.59 211.05 L380.67 211.82 L380.75 212.60 L380.84 213.40 L380.92 214.21 L381.00 215.03 L381.08 215.87 L381.14 216.52 L381.21 217.17 L381.27 217.83 L381.33 218.50 L381.39 219.18 L381.45 219.87 L381.51 220.57 L381.58 221.28 L381.64 222.00 L381.70 222.74 L381.76 223.49 L381.82 224.25 L381.88 225.02 L381.95 225.81 L382.01 226.61 L382.07 227.42 L382.13 228.25 L382.19 229.10 L382.25 229.96 L382.32 230.84 L382.38 231.74 L382.44 232.65 L382.50 233.59 L382.56 234.54 L382.62 235.52 L382.66 236.18 L382.71 236.85 L382.75 237.53 L382.79 238.22 L382.83 238.93 L382.87 239.64 L382.91 240.37 L382.95 241.11 L382.99 241.86 L383.03 242.62 L383.08 243.40 L383.12 244.19 L383.16 244.99 L383.20 245.81 L383.24 246.64 L383.28 247.49 L383.32 248.36 L383.36 249.24 L383.40 250.00 M387.45 250.00 L387.49 249.12 L387.53 248.25 L387.58 247.39 L387.62 246.56 L387.66 245.73 L387.70 244.93 L387.74 244.13 L387.78 243.35 L387.82 242.59 L387.86 241.84 L387.90 241.10 L387.95 240.37 L387.99 239.65 L388.03 238.95 L388.07 238.26 L388.11 237.57 L388.15 236.90 L388.19 236.24 L388.25 235.27 L388.32 234.31 L388.38 233.38 L388.44 232.46 L388.50 231.57 L388.56 230.69 L388.62 229.83 L388.69 228.98 L388.75 228.16 L388.81 227.34 L388.87 226.54 L388.93 225.76 L388.99 224.99 L389.06 224.23 L389.12 223.49 L389.18 222.76 L389.24 222.04 L389.30 221.33 L389.36 220.63 L389.43 219.94 L389.49 219.27 L389.55 218.60 L389.61 217.95 L389.67 217.30 L389.75 216.45 L389.84 215.62 L389.92 214.81 L390.00 214.01 L390.08 213.22 L390.17 212.45 L390.25 211.69 L390.33 210.94 L390.41 210.21 L390.49 209.49 L390.58 208.78 L390.66 208.08 L390.74 207.39 L390.82 206.71 L390.90 206.05 L390.99 205.39 L391.07 204.74 L391.15 204.11 L391.23 203.48 L391.32 202.86 L391.42 202.09 L391.52 201.35 L391.62 200.61 L391.73 199.88 L391.83 199.17 L391.93 198.47 L392.04 197.78 L392.14 197.10 L392.24 196.43 L392.34 195.77 L392.45 195.12 L392.55 194.48 L392.65 193.85 L392.75 193.23 L392.86 192.62 L392.96 192.02 L393.08 191.30 L393.21 190.60 L393.33 189.91 L393.45 189.23 L393.58 188.56 L393.70 187.90 L393.82 187.25 L393.95 186.61 L394.07 185.98 L394.19 185.35 L394.32 184.74 L394.44 184.14 L394.56 183.54 L394.69 182.95 L394.81 182.37 L394.95 181.70 L395.10 181.05 L395.24 180.40 L395.38 179.76 L395.53 179.13 L395.67 178.51 L395.82 177.90 L395.96 177.30 L396.10 176.71 L396.25 176.12 L396.39 175.54 L396.54 174.97 L396.68 174.41 L396.84 173.77 L397.01 173.15 L397.17 172.53 L397.34 171.92 L397.50 171.33 L397.67 170.73 L397.83 170.15 L397.99 169.58 L398.16 169.01 L398.32 168.45 L398.49 167.90 L398.65 167.35 L398.82 166.81 L399.00 166.21 L399.19 165.62 L399.37 165.04 L399.56 164.47 L399.74 163.90 L399.93 163.34 L400.11 162.79 L400.30 162.24 L400.48 161.71 L400.67 161.18 L400.85 160.65 L401.04 160.13 L401.24 159.56 L401.45 159.00 L401.65 158.45 L401.86 157.90 L402.06 157.36 L402.27 156.83 L402.47 156.30 L402.68 155.78 L402.89 155.27 L403.09 154.76 L403.30 154.26 L403.50 153.77 L403.73 153.23 L403.95 152.70 L404.18 152.17 L404.41 151.66 L404.63 151.14 L404.86 150.64 L405.08 150.14 L405.31 149.64 L405.54 149.16 L405.76 148.67 L405.99 148.20 L406.24 147.68 L406.48 147.17 L406.73 146.67 L406.98 146.18 L407.22 145.69 L407.47 145.20 L407.71 144.72 L407.96 144.25 L408.21 143.78 L408.45 143.32 L408.70 142.86 L408.97 142.37 L409.24 141.89 L409.50 141.41 L409.77 140.93 L410.04 140.47 L410.30 140.00 L410.57 139.55 L410.84 139.09 L411.11 138.65 L411.37 138.20 L411.64 137.76 L411.91 137.33 L412.19 136.87 L412.48 136.41 L412.77 135.96 L413.06 135.51 L413.35 135.07 L413.63 134.64 L413.92 134.20 L414.21 133.78 L414.50 133.35 L414.78 132.93 L415.07 132.52 L415.38 132.08 L415.69 131.64 L416.00 131.21 L416.30 130.79 L416.61 130.37 L416.92 129.95 L417.23 129.54 L417.54 129.13 L417.85 128.72 L418.15 128.32 L418.46 127.93 L418.77 127.53 L419.10 127.12 L419.43 126.71 L419.76 126.30 L420.09 125.90 L420.41 125.50 L420.74 125.11 L421.07 124.72 L421.40 124.33 L421.73 123.95 L422.06 123.57 L422.39 123.19 L422.72 122.82 L423.07 122.43 L423.41 122.04 L423.76 121.66 L424.11 121.28 L424.46 120.90 L424.81 120.53 L425.16 120.16 L425.51 119.79 L425.86 119.43 L426.21 119.07 L426.56 118.72 L426.91 118.36 L427.28 117.99 L427.65 117.63 L428.02 117.26 L428.39 116.90 L428.76 116.55 L429.13 116.20 L429.50 115.85 L429.87 115.50 L430.24 115.15 L430.61 114.81 L430.98 114.48 L431.35 114.14 L431.72 113.81 L432.11 113.46 L432.50 113.12 L432.89 112.78 L433.28 112.44 L433.67 112.11 L434.06 111.77 L434.45 111.44 L434.84 111.12 L435.23 110.80 L435.62 110.47 L436.01 110.16 L436.40 109.84 L436.79 109.53 L437.18 109.22 L437.59 108.89 L438.01 108.57 L438.42 108.26 L438.83 107.94 L439.24 107.63 L439.65 107.32 L440.06 107.01 L440.47 106.71 L440.88 106.40 L441.29 106.10 L441.70 105.80 L442.12 105.51 L442.53 105.22 L442.94 104.93 L443.37 104.62 L443.80 104.32 L444.23 104.03 L444.66 103.73 L445.10 103.44 L445.53 103.15 L445.96 102.86 L446.39 102.57 L446.82 102.29 L447.25 102.01 L447.68 101.73 L448.12 101.45 L448.55 101.18 L448.98 100.90 L449.41 100.63 L449.84 100.36 L450.29 100.08 L450.75 99.81 L451.20 99.53 L451.65 99.26 L452.10 98.99 L452.55 98.72 L453.01 98.45 L453.46 98.19 L453.91 97.93 L454.36 97.66 L454.82 97.41 L455.27 97.15 L455.72 96.89 L456.17 96.64 L456.62 96.39 L457.08 96.14 L457.55 95.88 L458.02 95.62 L458.49 95.37 L458.97 95.12 L459.44 94.86 L459.91 94.61 L460.38 94.37 L460.86 94.12 L461.33 93.88 L461.80 93.63 L462.28 93.39 L462.75 93.15 L463.22 92.92 L463.69 92.68 L464.17 92.45 L464.64 92.22 L465.11 91.99 L465.58 91.76 L466.06 91.53 L466.55 91.29 L467.04 91.06 L467.54 90.83 L468.03 90.60 L468.52 90.37 L469.02 90.14 L469.51 89.91 L470.00 89.69 L470.50 89.47 L470.99 89.24 L471.48 89.02 L471.97 88.81 L472.47 88.59 L472.96 88.37 L473.45 88.16 L473.95 87.95 L474.44 87.74 L474.93 87.53 L475.43 87.32 L475.92 87.11 L476.43 86.90 L476.95 86.68 L477.46 86.47 L477.98 86.26 L478.49 86.05 L478.90 85.89"/>
</g>
<g stroke="#FA9800" stroke-dasharray="3 3.94 7 4" stroke-dashoffset="2.8">
<path transform="translate(-0.4,0)" d="M67.90 8.30 L68.50 8.42 L69.09 8.55 L69.69 8.67 L70.28 8.79 L70.88 8.92 L71.48 9.04 L72.07 9.16 L72.67 9.29 L73.26 9.41 L73.86 9.54 L74.46 9.66 L75.05 9.79 L75.65 9.91 L76.24 10.04 L76.84 10.16 L77.44 10.29 L78.03 10.42 L78.63 10.54 L79.22 10.67 L79.82 10.80 L80.41 10.92 L81.01 11.05 L81.61 11.18 L82.20 11.31 L82.80 11.43 L83.39 11.56 L83.99 11.69 L84.59 11.82 L85.18 11.95 L85.76 12.07 L86.33 12.20 L86.91 12.32 L87.48 12.45 L88.06 12.58 L88.63 12.70 L89.21 12.83 L89.79 12.95 L90.36 13.08 L90.94 13.21 L91.51 13.33 L92.09 13.46 L92.66 13.59 L93.24 13.72 L93.81 13.84 L94.39 13.97 L94.96 14.10 L95.54 14.23 L96.12 14.36 L96.69 14.49 L97.27 14.62 L97.84 14.75 L98.42 14.88 L98.99 15.01 L99.57 15.14 L100.14 15.27 L100.72 15.40 L101.29 15.53 L101.87 15.66 L102.44 15.79 L103.02 15.93 L103.60 16.06 L104.17 16.19 L104.75 16.32 L105.32 16.46 L105.90 16.59 L106.47 16.72 L107.05 16.86 L107.62 16.99 L108.20 17.12 L108.77 17.26 L109.35 17.39 L109.92 17.53 L110.50 17.66 L111.08 17.80 L111.65 17.93 L112.23 18.07 L112.80 18.21 L113.38 18.34 L113.95 18.48 L114.53 18.62 L115.10 18.75 L115.68 18.89 L116.25 19.03 L116.83 19.17 L117.40 19.31 L117.98 19.45 L118.56 19.58 L119.13 19.72 L119.71 19.86 L120.28 20.00 L120.86 20.14 L121.43 20.28 L122.01 20.43 L122.58 20.57 L123.16 20.71 L123.73 20.85 L124.31 20.99 L124.89 21.13 L125.46 21.28 L126.04 21.42 L126.61 21.56 L127.19 21.71 L127.76 21.85 L128.34 21.99 L128.91 22.14 L129.49 22.28 L130.06 22.43 L130.64 22.57 L131.21 22.72 L131.79 22.86 L132.37 23.01 L132.94 23.16 L133.52 23.30 L134.09 23.45 L134.67 23.60 L135.24 23.75 L135.82 23.89 L136.39 24.04 L136.97 24.19 L137.54 24.34 L138.12 24.49 L138.69 24.64 L139.27 24.79 L139.85 24.94 L140.40 25.09 L140.96 25.23 L141.51 25.38 L142.06 25.53 L142.62 25.67 L143.17 25.82 L143.73 25.97 L144.28 26.11 L144.84 26.26 L145.39 26.41 L145.95 26.56 L146.50 26.71 L147.06 26.86 L147.61 27.01 L148.17 27.16 L148.72 27.31 L149.28 27.46 L149.83 27.61 L150.39 27.76 L150.94 27.91 L151.50 28.06 L152.05 28.22 L152.61 28.37 L153.16 28.52 L153.72 28.68 L154.27 28.83 L154.83 28.98 L155.38 29.14 L155.94 29.29 L156.49 29.45 L157.05 29.61 L157.60 29.76 L158.16 29.92 L158.71 30.07 L159.27 30.23 L159.82 30.39 L160.38 30.55 L160.93 30.71 L161.48 30.86 L162.04 31.02 L162.59 31.18 L163.15 31.34 L163.70 31.50 L164.26 31.66 L164.81 31.82 L165.37 31.99 L165.92 32.15 L166.48 32.31 L167.03 32.47 L167.59 32.64 L168.14 32.80 L168.70 32.96 L169.25 33.13 L169.81 33.29 L170.36 33.46 L170.92 33.62 L171.47 33.79 L172.03 33.96 L172.58 34.12 L173.14 34.29 L173.69 34.46 L174.25 34.63 L174.80 34.79 L175.36 34.96 L175.91 35.13 L176.47 35.30 L177.02 35.47 L177.58 35.64 L178.13 35.81 L178.69 35.99 L179.22 36.15 L179.75 36.32 L180.29 36.48 L180.82 36.65 L181.36 36.82 L181.89 36.99 L182.43 37.16 L182.96 37.32 L183.49 37.49 L184.03 37.66 L184.56 37.83 L185.10 38.00 L185.63 38.18 L186.17 38.35 L186.70 38.52 L187.23 38.69 L187.77 38.86 L188.30 39.04 L188.84 39.21 L189.37 39.39 L189.91 39.56 L190.44 39.74 L190.97 39.91 L191.51 40.09 L192.04 40.27 L192.58 40.44 L193.11 40.62 L193.65 40.80 L194.18 40.98 L194.71 41.16 L195.25 41.34 L195.78 41.52 L196.32 41.70 L196.85 41.88 L197.39 42.06 L197.92 42.24 L198.45 42.43 L198.99 42.61 L199.52 42.79 L200.06 42.98 L200.59 43.16 L201.13 43.35 L201.66 43.54 L202.19 43.72 L202.73 43.91 L203.26 44.10 L203.80 44.29 L204.33 44.48 L204.87 44.67 L205.40 44.86 L205.93 45.05 L206.47 45.24 L207.00 45.43 L207.54 45.62 L208.07 45.82 L208.59 46.00 L209.10 46.19 L209.61 46.38 L210.13 46.56 L210.64 46.75 L211.15 46.94 L211.67 47.13 L212.18 47.32 L212.70 47.51 L213.21 47.71 L213.72 47.90 L214.24 48.09 L214.75 48.28 L215.26 48.48 L215.78 48.67 L216.29 48.87 L216.81 49.06 L217.32 49.26 L217.83 49.46 L218.35 49.65 L218.86 49.85 L219.37 50.05 L219.89 50.25 L220.40 50.45 L220.92 50.65 L221.43 50.85 L221.94 51.06 L222.46 51.26 L222.97 51.46 L223.48 51.67 L224.00 51.87 L224.51 52.08 L225.03 52.29 L225.54 52.49 L226.05 52.70 L226.57 52.91 L227.08 53.12 L227.59 53.33 L228.11 53.54 L228.62 53.75 L229.14 53.96 L229.65 54.18 L230.16 54.39 L230.68 54.60 L231.19 54.82 L231.68 55.03 L232.18 55.24 L232.67 55.44 L233.16 55.65 L233.66 55.87 L234.15 56.08 L234.64 56.29 L235.14 56.50 L235.63 56.71 L236.12 56.93 L236.62 57.14 L237.11 57.36 L237.60 57.58 L238.10 57.79 L238.59 58.01 L239.08 58.23 L239.57 58.45 L240.07 58.67 L240.56 58.89 L241.05 59.11 L241.55 59.34 L242.04 59.56 L242.53 59.79 L243.03 60.01 L243.52 60.24 L244.01 60.47 L244.51 60.69 L245.00 60.92 L245.49 61.15 L245.99 61.38 L246.48 61.62 L246.97 61.85 L247.47 62.08 L247.96 62.32 L248.45 62.55 L248.95 62.79 L249.42 63.02 L249.89 63.25 L250.36 63.48 L250.84 63.71 L251.31 63.94 L251.78 64.17 L252.25 64.40 L252.73 64.64 L253.20 64.87 L253.67 65.11 L254.14 65.35 L254.62 65.58 L255.09 65.82 L255.56 66.06 L256.04 66.30 L256.51 66.55 L256.98 66.79 L257.45 67.03 L257.93 67.28 L258.40 67.52 L258.87 67.77 L259.34 68.02 L259.82 68.27 L260.29 68.52 L260.76 68.77 L261.23 69.02 L261.71 69.28 L262.18 69.53 L262.65 69.79 L263.12 70.05 L263.60 70.31 L264.05 70.55 L264.50 70.80 L264.95 71.05 L265.41 71.31 L265.86 71.56 L266.31 71.81 L266.76 72.07 L267.21 72.32 L267.67 72.58 L268.12 72.84 L268.57 73.10 L269.02 73.36 L269.47 73.62 L269.93 73.89 L270.38 74.15 L270.83 74.42 L271.28 74.69 L271.74 74.95 L272.19 75.22 L272.64 75.50 L273.09 75.77 L273.54 76.04 L274.00 76.32 L274.45 76.59 L274.90 76.87 L275.35 77.15 L275.80 77.43 L276.24 77.70 L276.67 77.97 L277.10 78.25 L277.53 78.52 L277.96 78.79 L278.39 79.07 L278.83 79.35 L279.26 79.63 L279.69 79.91 L280.12 80.19 L280.55 80.47 L280.98 80.76 L281.41 81.04 L281.85 81.33 L282.28 81.62 L282.71 81.91 L283.14 82.21 L283.57 82.50 L284.00 82.79 L284.44 83.09 L284.87 83.39 L285.30 83.69 L285.73 83.99 L286.14 84.28 L286.55 84.57 L286.96 84.87 L287.37 85.16 L287.79 85.46 L288.20 85.76 L288.61 86.05 L289.02 86.36 L289.43 86.66 L289.84 86.96 L290.25 87.27 L290.66 87.58 L291.07 87.89 L291.48 88.20 L291.89 88.51 L292.31 88.83 L292.72 89.14 L293.13 89.46 L293.54 89.78 L293.95 90.10 L294.36 90.43 L294.75 90.74 L295.14 91.05 L295.53 91.37 L295.92 91.68 L296.31 92.00 L296.70 92.32 L297.09 92.64 L297.48 92.96 L297.88 93.29 L298.27 93.62 L298.66 93.95 L299.05 94.28 L299.44 94.61 L299.83 94.95 L300.22 95.29 L300.61 95.63 L301.00 95.97 L301.39 96.31 L301.78 96.66 L302.15 96.99 L302.52 97.33 L302.89 97.66 L303.26 98.00 L303.63 98.34 L304.00 98.68 L304.37 99.03 L304.74 99.37 L305.11 99.72 L305.48 100.07 L305.85 100.43 L306.22 100.78 L306.59 101.14 L306.96 101.50 L307.33 101.87 L307.70 102.23 L308.07 102.60 L308.42 102.95 L308.77 103.31 L309.12 103.66 L309.47 104.02 L309.81 104.38 L310.16 104.74 L310.51 105.11 L310.86 105.48 L311.21 105.85 L311.56 106.22 L311.91 106.60 L312.26 106.98 L312.61 107.36 L312.96 107.75 L313.31 108.14 L313.66 108.53 L314.01 108.92 L314.34 109.30 L314.66 109.67 L314.99 110.05 L315.32 110.44 L315.65 110.82 L315.98 111.21 L316.31 111.60 L316.64 112.00 L316.97 112.39 L317.29 112.79 L317.62 113.20 L317.95 113.61 L318.28 114.02 L318.61 114.43 L318.94 114.85 L319.25 115.24 L319.56 115.64 L319.86 116.04 L320.17 116.45 L320.48 116.85 L320.79 117.27 L321.10 117.68 L321.40 118.10 L321.71 118.52 L322.02 118.95 L322.33 119.37 L322.64 119.81 L322.95 120.24 L323.25 120.68 L323.54 121.10 L323.83 121.52 L324.12 121.94 L324.41 122.36 L324.69 122.79 L324.98 123.23 L325.27 123.66 L325.56 124.10 L325.84 124.55 L326.13 125.00 L326.42 125.45 L326.71 125.91 L326.99 126.37 L327.28 126.83 L327.55 127.27 L327.82 127.71 L328.08 128.16 L328.35 128.61 L328.62 129.06 L328.88 129.52 L329.15 129.98 L329.42 130.44 L329.69 130.91 L329.95 131.39 L330.22 131.87 L330.49 132.35 L330.76 132.84 L331.00 133.30 L331.25 133.76 L331.49 134.23 L331.74 134.70 L331.99 135.17 L332.23 135.65 L332.48 136.13 L332.73 136.62 L332.97 137.12 L333.22 137.61 L333.47 138.12 L333.71 138.63 L333.96 139.14 L334.19 139.62 L334.41 140.10 L334.64 140.59 L334.87 141.08 L335.09 141.58 L335.32 142.08 L335.54 142.59 L335.77 143.10 L336.00 143.62 L336.22 144.15 L336.45 144.68 L336.67 145.21 L336.90 145.76 L337.11 146.25 L337.31 146.76 L337.52 147.27 L337.72 147.78 L337.93 148.30 L338.13 148.83 L338.34 149.36 L338.54 149.90 L338.75 150.45 L338.95 151.00 L339.16 151.56 L339.37 152.12 L339.57 152.69 L339.76 153.21 L339.94 153.74 L340.13 154.27 L340.31 154.81 L340.50 155.35 L340.68 155.90 L340.87 156.46 L341.05 157.02 L341.24 157.59 L341.42 158.17 L341.61 158.76 L341.79 159.35 L341.98 159.95 L342.14 160.49 L342.30 161.04 L342.47 161.59 L342.63 162.15 L342.80 162.72 L342.96 163.29 L343.13 163.87 L343.29 164.46 L343.45 165.05 L343.62 165.66 L343.78 166.27 L343.95 166.89 L344.11 167.51 L344.26 168.07 L344.40 168.63 L344.54 169.20 L344.69 169.78 L344.83 170.37 L344.98 170.96 L345.12 171.56 L345.26 172.16 L345.41 172.78 L345.55 173.40 L345.69 174.04 L345.84 174.68 L345.98 175.33 L346.13 175.99 L346.27 176.66 L346.39 177.24 L346.52 177.83 L346.64 178.43 L346.76 179.03 L346.89 179.64 L347.01 180.26 L347.13 180.89 L347.26 181.53 L347.38 182.18 L347.50 182.83 L347.63 183.50 L347.75 184.18 L347.87 184.86 L348.00 185.56 L348.12 186.27 L348.22 186.86 L348.33 187.47 L348.43 188.08 L348.53 188.71 L348.63 189.34 L348.74 189.98 L348.84 190.63 L348.94 191.28 L349.04 191.95 L349.15 192.63 L349.25 193.32 L349.35 194.02 L349.46 194.73 L349.56 195.45 L349.66 196.18 L349.76 196.92 L349.87 197.68 L349.97 198.45 L350.05 199.07 L350.13 199.71 L350.22 200.35 L350.30 201.00 L350.38 201.66 L350.46 202.34 L350.54 203.02 L350.63 203.71 L350.71 204.41 L350.79 205.12 L350.87 205.85 L350.96 206.59 L351.04 207.34 L351.12 208.10 L351.20 208.87 L351.28 209.66 L351.37 210.46 L351.45 211.28 L351.53 212.11 L351.61 212.96 L351.67 213.60 L351.74 214.26 L351.80 214.93 L351.86 215.60 L351.92 216.29 L351.98 216.98 L352.04 217.69 L352.11 218.41 L352.17 219.14 L352.23 219.88 L352.29 220.63 L352.35 221.40 L352.41 222.18 L352.48 222.97 L352.54 223.78 L352.60 224.60 L352.66 225.44 L352.72 226.30 L352.78 227.17 L352.85 228.05 L352.91 228.96 L352.97 229.88 L353.03 230.83 L353.09 231.79 L353.15 232.78 L353.20 233.45 L353.24 234.13 L353.28 234.82 L353.32 235.52 L353.36 236.23 L353.40 236.95 L353.44 237.68 L353.48 238.43 L353.52 239.19 L353.57 239.96 L353.61 240.75 L353.65 241.55 L353.69 242.36 L353.73 243.19 L353.77 244.04 L353.81 244.90 L353.85 245.78 L353.89 246.67 L353.94 247.59 L353.98 248.52 L354.02 249.48 L354.04 250.00 M357.82 250.00 L357.86 249.02 L357.90 248.09 L357.94 247.18 L357.98 246.29 L358.02 245.41 L358.07 244.55 L358.11 243.71 L358.15 242.88 L358.19 242.07 L358.23 241.27 L358.27 240.49 L358.31 239.72 L358.35 238.97 L358.39 238.22 L358.44 237.49 L358.48 236.77 L358.52 236.07 L358.56 235.37 L358.60 234.68 L358.64 234.01 L358.68 233.34 L358.74 232.37 L358.81 231.41 L358.87 230.47 L358.93 229.55 L358.99 228.65 L359.05 227.77 L359.11 226.91 L359.18 226.06 L359.24 225.23 L359.30 224.42 L359.36 223.61 L359.42 222.83 L359.48 222.06 L359.55 221.30 L359.61 220.55 L359.67 219.82 L359.73 219.09 L359.79 218.38 L359.85 217.68 L359.92 217.00 L359.98 216.32 L360.04 215.65 L360.10 215.00 L360.16 214.35 L360.24 213.50 L360.33 212.67 L360.41 211.85 L360.49 211.05 L360.57 210.26 L360.66 209.49 L360.74 208.73 L360.82 207.98 L360.90 207.24 L360.98 206.52 L361.07 205.81 L361.15 205.11 L361.23 204.42 L361.31 203.75 L361.40 203.08 L361.48 202.42 L361.56 201.77 L361.64 201.14 L361.72 200.51 L361.81 199.89 L361.91 199.12 L362.01 198.37 L362.11 197.64 L362.22 196.91 L362.32 196.20 L362.42 195.50 L362.53 194.81 L362.63 194.13 L362.73 193.46 L362.83 192.80 L362.94 192.15 L363.04 191.51 L363.14 190.88 L363.24 190.26 L363.35 189.65 L363.45 189.04 L363.57 188.33 L363.70 187.63 L363.82 186.94 L363.94 186.26 L364.07 185.59 L364.19 184.93 L364.31 184.28 L364.44 183.64 L364.56 183.01 L364.68 182.39 L364.81 181.77 L364.93 181.17 L365.05 180.57 L365.18 179.99 L365.30 179.41 L365.44 178.74 L365.59 178.08 L365.73 177.44 L365.88 176.80 L366.02 176.17 L366.16 175.56 L366.31 174.95 L366.45 174.34 L366.59 173.75 L366.74 173.17 L366.88 172.59 L367.03 172.02 L367.17 171.46 L367.33 170.83 L367.50 170.20 L367.66 169.59 L367.83 168.98 L367.99 168.38 L368.16 167.79 L368.32 167.21 L368.48 166.64 L368.65 166.07 L368.81 165.51 L368.98 164.96 L369.14 164.42 L369.31 163.88 L369.49 163.28 L369.68 162.70 L369.86 162.12 L370.05 161.54 L370.23 160.98 L370.42 160.42 L370.60 159.87 L370.79 159.33 L370.97 158.79 L371.16 158.26 L371.34 157.74 L371.53 157.23 L371.73 156.66 L371.94 156.10 L372.14 155.55 L372.35 155.00 L372.55 154.47 L372.76 153.94 L372.96 153.41 L373.17 152.90 L373.38 152.38 L373.58 151.88 L373.79 151.38 L374.01 150.84 L374.24 150.30 L374.46 149.78 L374.69 149.25 L374.92 148.74 L375.14 148.23 L375.37 147.73 L375.60 147.23 L375.82 146.74 L376.05 146.26 L376.27 145.78 L376.52 145.26 L376.77 144.75 L377.01 144.25 L377.26 143.75 L377.51 143.26 L377.75 142.77 L378.00 142.29 L378.25 141.82 L378.49 141.35 L378.74 140.88 L378.99 140.42 L379.23 139.97 L379.50 139.48 L379.77 139.00 L380.03 138.53 L380.30 138.06 L380.57 137.60 L380.84 137.14 L381.10 136.68 L381.37 136.23 L381.64 135.79 L381.90 135.35 L382.17 134.92 L382.46 134.46 L382.75 134.00 L383.03 133.55 L383.32 133.10 L383.61 132.66 L383.90 132.22 L384.19 131.79 L384.47 131.36 L384.76 130.94 L385.05 130.52 L385.34 130.11 L385.64 129.67 L385.95 129.23 L386.26 128.80 L386.57 128.38 L386.88 127.96 L387.19 127.54 L387.49 127.13 L387.80 126.72 L388.11 126.32 L388.42 125.92 L388.73 125.52 L389.06 125.11 L389.38 124.69 L389.71 124.29 L390.04 123.88 L390.37 123.48 L390.70 123.08 L391.03 122.69 L391.36 122.30 L391.69 121.92 L392.01 121.54 L392.34 121.16 L392.67 120.79 L393.02 120.40 L393.37 120.01 L393.72 119.62 L394.07 119.24 L394.42 118.87 L394.77 118.49 L395.12 118.12 L395.47 117.76 L395.82 117.39 L396.17 117.03 L396.52 116.68 L396.86 116.32 L397.23 115.96 L397.60 115.59 L397.97 115.23 L398.34 114.87 L398.71 114.51 L399.08 114.16 L399.45 113.81 L399.82 113.46 L400.19 113.12 L400.56 112.78 L400.93 112.44 L401.30 112.11 L401.67 111.78 L402.06 111.43 L402.45 111.09 L402.84 110.75 L403.23 110.42 L403.63 110.08 L404.02 109.75 L404.41 109.42 L404.80 109.10 L405.19 108.78 L405.58 108.46 L405.97 108.14 L406.36 107.83 L406.75 107.52 L407.16 107.20 L407.57 106.88 L407.98 106.56 L408.39 106.24 L408.80 105.93 L409.21 105.62 L409.63 105.31 L410.04 105.01 L410.45 104.70 L410.86 104.41 L411.27 104.11 L411.68 103.81 L412.09 103.52 L412.50 103.23 L412.93 102.93 L413.37 102.63 L413.80 102.34 L414.23 102.04 L414.66 101.75 L415.09 101.46 L415.52 101.17 L415.96 100.89 L416.39 100.61 L416.82 100.33 L417.25 100.05 L417.68 99.78 L418.11 99.50 L418.54 99.23 L418.98 98.96 L419.43 98.68 L419.88 98.41 L420.33 98.13 L420.78 97.86 L421.24 97.59 L421.69 97.32 L422.14 97.06 L422.59 96.79 L423.05 96.53 L423.50 96.27 L423.95 96.01 L424.40 95.76 L424.85 95.50 L425.31 95.25 L425.76 95.00 L426.23 94.74 L426.70 94.49 L427.18 94.23 L427.65 93.98 L428.12 93.73 L428.59 93.48 L429.07 93.23 L429.54 92.99 L430.01 92.74 L430.48 92.50 L430.96 92.26 L431.43 92.02 L431.90 91.79 L432.37 91.55 L432.85 91.32 L433.32 91.09 L433.79 90.86 L434.27 90.63 L434.76 90.40 L435.25 90.16 L435.75 89.93 L436.24 89.70 L436.73 89.47 L437.22 89.25 L437.72 89.02 L438.21 88.80 L438.70 88.57 L439.20 88.35 L439.69 88.14 L440.18 87.92 L440.68 87.70 L441.17 87.49 L441.66 87.28 L442.16 87.07 L442.65 86.86 L443.14 86.65 L443.66 86.43 L444.17 86.22 L444.68 86.01 L445.20 85.80 L445.71 85.59 L446.23 85.38 L446.74 85.17 L447.25 84.97 L447.77 84.77 L448.28 84.57 L448.79 84.37 L449.31 84.17 L449.82 83.97 L450.34 83.77 L450.85 83.58 L451.36 83.39 L451.88 83.19 L452.39 83.00 L452.90 82.81 L453.42 82.63 L453.93 82.44 L454.47 82.25 L455.00 82.06 L455.53 81.87 L456.07 81.68 L456.60 81.49 L457.14 81.30 L457.67 81.12 L458.21 80.94 L458.74 80.75 L459.27 80.57 L459.81 80.39 L460.34 80.21 L460.88 80.04 L461.41 79.86 L461.95 79.69 L462.48 79.51 L463.01 79.34 L463.55 79.17 L464.08 79.00 L464.62 78.83 L465.15 78.66 L465.69 78.49 L466.24 78.32 L466.80 78.15 L467.35 77.98 L467.91 77.81 L468.46 77.65 L469.02 77.48 L469.57 77.32 L470.13 77.15 L470.68 76.99 L471.23 76.83 L471.79 76.67 L472.34 76.51 L472.90 76.35 L473.45 76.19 L474.01 76.03 L474.56 75.88 L475.12 75.73 L475.67 75.57 L476.23 75.42 L476.78 75.27 L477.34 75.12 L477.89 74.97 L478.45 74.82 L478.90 74.70"/>
<path transform="translate(0.4,0)" d="M67.90 8.30 L68.50 8.42 L69.09 8.55 L69.69 8.67 L70.28 8.79 L70.88 8.92 L71.48 9.04 L72.07 9.16 L72.67 9.29 L73.26 9.41 L73.86 9.54 L74.46 9.66 L75.05 9.79 L75.65 9.91 L76.24 10.04 L76.84 10.16 L77.44 10.29 L78.03 10.42 L78.63 10.54 L79.22 10.67 L79.82 10.80 L80.41 10.92 L81.01 11.05 L81.61 11.18 L82.20 11.31 L82.80 11.43 L83.39 11.56 L83.99 11.69 L84.59 11.82 L85.18 11.95 L85.76 12.07 L86.33 12.20 L86.91 12.32 L87.48 12.45 L88.06 12.58 L88.63 12.70 L89.21 12.83 L89.79 12.95 L90.36 13.08 L90.94 13.21 L91.51 13.33 L92.09 13.46 L92.66 13.59 L93.24 13.72 L93.81 13.84 L94.39 13.97 L94.96 14.10 L95.54 14.23 L96.12 14.36 L96.69 14.49 L97.27 14.62 L97.84 14.75 L98.42 14.88 L98.99 15.01 L99.57 15.14 L100.14 15.27 L100.72 15.40 L101.29 15.53 L101.87 15.66 L102.44 15.79 L103.02 15.93 L103.60 16.06 L104.17 16.19 L104.75 16.32 L105.32 16.46 L105.90 16.59 L106.47 16.72 L107.05 16.86 L107.62 16.99 L108.20 17.12 L108.77 17.26 L109.35 17.39 L109.92 17.53 L110.50 17.66 L111.08 17.80 L111.65 17.93 L112.23 18.07 L112.80 18.21 L113.38 18.34 L113.95 18.48 L114.53 18.62 L115.10 18.75 L115.68 18.89 L116.25 19.03 L116.83 19.17 L117.40 19.31 L117.98 19.45 L118.56 19.58 L119.13 19.72 L119.71 19.86 L120.28 20.00 L120.86 20.14 L121.43 20.28 L122.01 20.43 L122.58 20.57 L123.16 20.71 L123.73 20.85 L124.31 20.99 L124.89 21.13 L125.46 21.28 L126.04 21.42 L126.61 21.56 L127.19 21.71 L127.76 21.85 L128.34 21.99 L128.91 22.14 L129.49 22.28 L130.06 22.43 L130.64 22.57 L131.21 22.72 L131.79 22.86 L132.37 23.01 L132.94 23.16 L133.52 23.30 L134.09 23.45 L134.67 23.60 L135.24 23.75 L135.82 23.89 L136.39 24.04 L136.97 24.19 L137.54 24.34 L138.12 24.49 L138.69 24.64 L139.27 24.79 L139.85 24.94 L140.40 25.09 L140.96 25.23 L141.51 25.38 L142.06 25.53 L142.62 25.67 L143.17 25.82 L143.73 25.97 L144.28 26.11 L144.84 26.26 L145.39 26.41 L145.95 26.56 L146.50 26.71 L147.06 26.86 L147.61 27.01 L148.17 27.16 L148.72 27.31 L149.28 27.46 L149.83 27.61 L150.39 27.76 L150.94 27.91 L151.50 28.06 L152.05 28.22 L152.61 28.37 L153.16 28.52 L153.72 28.68 L154.27 28.83 L154.83 28.98 L155.38 29.14 L155.94 29.29 L156.49 29.45 L157.05 29.61 L157.60 29.76 L158.16 29.92 L158.71 30.07 L159.27 30.23 L159.82 30.39 L160.38 30.55 L160.93 30.71 L161.48 30.86 L162.04 31.02 L162.59 31.18 L163.15 31.34 L163.70 31.50 L164.26 31.66 L164.81 31.82 L165.37 31.99 L165.92 32.15 L166.48 32.31 L167.03 32.47 L167.59 32.64 L168.14 32.80 L168.70 32.96 L169.25 33.13 L169.81 33.29 L170.36 33.46 L170.92 33.62 L171.47 33.79 L172.03 33.96 L172.58 34.12 L173.14 34.29 L173.69 34.46 L174.25 34.63 L174.80 34.79 L175.36 34.96 L175.91 35.13 L176.47 35.30 L177.02 35.47 L177.58 35.64 L178.13 35.81 L178.69 35.99 L179.22 36.15 L179.75 36.32 L180.29 36.48 L180.82 36.65 L181.36 36.82 L181.89 36.99 L182.43 37.16 L182.96 37.32 L183.49 37.49 L184.03 37.66 L184.56 37.83 L185.10 38.00 L185.63 38.18 L186.17 38.35 L186.70 38.52 L187.23 38.69 L187.77 38.86 L188.30 39.04 L188.84 39.21 L189.37 39.39 L189.91 39.56 L190.44 39.74 L190.97 39.91 L191.51 40.09 L192.04 40.27 L192.58 40.44 L193.11 40.62 L193.65 40.80 L194.18 40.98 L194.71 41.16 L195.25 41.34 L195.78 41.52 L196.32 41.70 L196.85 41.88 L197.39 42.06 L197.92 42.24 L198.45 42.43 L198.99 42.61 L199.52 42.79 L200.06 42.98 L200.59 43.16 L201.13 43.35 L201.66 43.54 L202.19 43.72 L202.73 43.91 L203.26 44.10 L203.80 44.29 L204.33 44.48 L204.87 44.67 L205.40 44.86 L205.93 45.05 L206.47 45.24 L207.00 45.43 L207.54 45.62 L208.07 45.82 L208.59 46.00 L209.10 46.19 L209.61 46.38 L210.13 46.56 L210.64 46.75 L211.15 46.94 L211.67 47.13 L212.18 47.32 L212.70 47.51 L213.21 47.71 L213.72 47.90 L214.24 48.09 L214.75 48.28 L215.26 48.48 L215.78 48.67 L216.29 48.87 L216.81 49.06 L217.32 49.26 L217.83 49.46 L218.35 49.65 L218.86 49.85 L219.37 50.05 L219.89 50.25 L220.40 50.45 L220.92 50.65 L221.43 50.85 L221.94 51.06 L222.46 51.26 L222.97 51.46 L223.48 51.67 L224.00 51.87 L224.51 52.08 L225.03 52.29 L225.54 52.49 L226.05 52.70 L226.57 52.91 L227.08 53.12 L227.59 53.33 L228.11 53.54 L228.62 53.75 L229.14 53.96 L229.65 54.18 L230.16 54.39 L230.68 54.60 L231.19 54.82 L231.68 55.03 L232.18 55.24 L232.67 55.44 L233.16 55.65 L233.66 55.87 L234.15 56.08 L234.64 56.29 L235.14 56.50 L235.63 56.71 L236.12 56.93 L236.62 57.14 L237.11 57.36 L237.60 57.58 L238.10 57.79 L238.59 58.01 L239.08 58.23 L239.57 58.45 L240.07 58.67 L240.56 58.89 L241.05 59.11 L241.55 59.34 L242.04 59.56 L242.53 59.79 L243.03 60.01 L243.52 60.24 L244.01 60.47 L244.51 60.69 L245.00 60.92 L245.49 61.15 L245.99 61.38 L246.48 61.62 L246.97 61.85 L247.47 62.08 L247.96 62.32 L248.45 62.55 L248.95 62.79 L249.42 63.02 L249.89 63.25 L250.36 63.48 L250.84 63.71 L251.31 63.94 L251.78 64.17 L252.25 64.40 L252.73 64.64 L253.20 64.87 L253.67 65.11 L254.14 65.35 L254.62 65.58 L255.09 65.82 L255.56 66.06 L256.04 66.30 L256.51 66.55 L256.98 66.79 L257.45 67.03 L257.93 67.28 L258.40 67.52 L258.87 67.77 L259.34 68.02 L259.82 68.27 L260.29 68.52 L260.76 68.77 L261.23 69.02 L261.71 69.28 L262.18 69.53 L262.65 69.79 L263.12 70.05 L263.60 70.31 L264.05 70.55 L264.50 70.80 L264.95 71.05 L265.41 71.31 L265.86 71.56 L266.31 71.81 L266.76 72.07 L267.21 72.32 L267.67 72.58 L268.12 72.84 L268.57 73.10 L269.02 73.36 L269.47 73.62 L269.93 73.89 L270.38 74.15 L270.83 74.42 L271.28 74.69 L271.74 74.95 L272.19 75.22 L272.64 75.50 L273.09 75.77 L273.54 76.04 L274.00 76.32 L274.45 76.59 L274.90 76.87 L275.35 77.15 L275.80 77.43 L276.24 77.70 L276.67 77.97 L277.10 78.25 L277.53 78.52 L277.96 78.79 L278.39 79.07 L278.83 79.35 L279.26 79.63 L279.69 79.91 L280.12 80.19 L280.55 80.47 L280.98 80.76 L281.41 81.04 L281.85 81.33 L282.28 81.62 L282.71 81.91 L283.14 82.21 L283.57 82.50 L284.00 82.79 L284.44 83.09 L284.87 83.39 L285.30 83.69 L285.73 83.99 L286.14 84.28 L286.55 84.57 L286.96 84.87 L287.37 85.16 L287.79 85.46 L288.20 85.76 L288.61 86.05 L289.02 86.36 L289.43 86.66 L289.84 86.96 L290.25 87.27 L290.66 87.58 L291.07 87.89 L291.48 88.20 L291.89 88.51 L292.31 88.83 L292.72 89.14 L293.13 89.46 L293.54 89.78 L293.95 90.10 L294.36 90.43 L294.75 90.74 L295.14 91.05 L295.53 91.37 L295.92 91.68 L296.31 92.00 L296.70 92.32 L297.09 92.64 L297.48 92.96 L297.88 93.29 L298.27 93.62 L298.66 93.95 L299.05 94.28 L299.44 94.61 L299.83 94.95 L300.22 95.29 L300.61 95.63 L301.00 95.97 L301.39 96.31 L301.78 96.66 L302.15 96.99 L302.52 97.33 L302.89 97.66 L303.26 98.00 L303.63 98.34 L304.00 98.68 L304.37 99.03 L304.74 99.37 L305.11 99.72 L305.48 100.07 L305.85 100.43 L306.22 100.78 L306.59 101.14 L306.96 101.50 L307.33 101.87 L307.70 102.23 L308.07 102.60 L308.42 102.95 L308.77 103.31 L309.12 103.66 L309.47 104.02 L309.81 104.38 L310.16 104.74 L310.51 105.11 L310.86 105.48 L311.21 105.85 L311.56 106.22 L311.91 106.60 L312.26 106.98 L312.61 107.36 L312.96 107.75 L313.31 108.14 L313.66 108.53 L314.01 108.92 L314.34 109.30 L314.66 109.67 L314.99 110.05 L315.32 110.44 L315.65 110.82 L315.98 111.21 L316.31 111.60 L316.64 112.00 L316.97 112.39 L317.29 112.79 L317.62 113.20 L317.95 113.61 L318.28 114.02 L318.61 114.43 L318.94 114.85 L319.25 115.24 L319.56 115.64 L319.86 116.04 L320.17 116.45 L320.48 116.85 L320.79 117.27 L321.10 117.68 L321.40 118.10 L321.71 118.52 L322.02 118.95 L322.33 119.37 L322.64 119.81 L322.95 120.24 L323.25 120.68 L323.54 121.10 L323.83 121.52 L324.12 121.94 L324.41 122.36 L324.69 122.79 L324.98 123.23 L325.27 123.66 L325.56 124.10 L325.84 124.55 L326.13 125.00 L326.42 125.45 L326.71 125.91 L326.99 126.37 L327.28 126.83 L327.55 127.27 L327.82 127.71 L328.08 128.16 L328.35 128.61 L328.62 129.06 L328.88 129.52 L329.15 129.98 L329.42 130.44 L329.69 130.91 L329.95 131.39 L330.22 131.87 L330.49 132.35 L330.76 132.84 L331.00 133.30 L331.25 133.76 L331.49 134.23 L331.74 134.70 L331.99 135.17 L332.23 135.65 L332.48 136.13 L332.73 136.62 L332.97 137.12 L333.22 137.61 L333.47 138.12 L333.71 138.63 L333.96 139.14 L334.19 139.62 L334.41 140.10 L334.64 140.59 L334.87 141.08 L335.09 141.58 L335.32 142.08 L335.54 142.59 L335.77 143.10 L336.00 143.62 L336.22 144.15 L336.45 144.68 L336.67 145.21 L336.90 145.76 L337.11 146.25 L337.31 146.76 L337.52 147.27 L337.72 147.78 L337.93 148.30 L338.13 148.83 L338.34 149.36 L338.54 149.90 L338.75 150.45 L338.95 151.00 L339.16 151.56 L339.37 152.12 L339.57 152.69 L339.76 153.21 L339.94 153.74 L340.13 154.27 L340.31 154.81 L340.50 155.35 L340.68 155.90 L340.87 156.46 L341.05 157.02 L341.24 157.59 L341.42 158.17 L341.61 158.76 L341.79 159.35 L341.98 159.95 L342.14 160.49 L342.30 161.04 L342.47 161.59 L342.63 162.15 L342.80 162.72 L342.96 163.29 L343.13 163.87 L343.29 164.46 L343.45 165.05 L343.62 165.66 L343.78 166.27 L343.95 166.89 L344.11 167.51 L344.26 168.07 L344.40 168.63 L344.54 169.20 L344.69 169.78 L344.83 170.37 L344.98 170.96 L345.12 171.56 L345.26 172.16 L345.41 172.78 L345.55 173.40 L345.69 174.04 L345.84 174.68 L345.98 175.33 L346.13 175.99 L346.27 176.66 L346.39 177.24 L346.52 177.83 L346.64 178.43 L346.76 179.03 L346.89 179.64 L347.01 180.26 L347.13 180.89 L347.26 181.53 L347.38 182.18 L347.50 182.83 L347.63 183.50 L347.75 184.18 L347.87 184.86 L348.00 185.56 L348.12 186.27 L348.22 186.86 L348.33 187.47 L348.43 188.08 L348.53 188.71 L348.63 189.34 L348.74 189.98 L348.84 190.63 L348.94 191.28 L349.04 191.95 L349.15 192.63 L349.25 193.32 L349.35 194.02 L349.46 194.73 L349.56 195.45 L349.66 196.18 L349.76 196.92 L349.87 197.68 L349.97 198.45 L350.05 199.07 L350.13 199.71 L350.22 200.35 L350.30 201.00 L350.38 201.66 L350.46 202.34 L350.54 203.02 L350.63 203.71 L350.71 204.41 L350.79 205.12 L350.87 205.85 L350.96 206.59 L351.04 207.34 L351.12 208.10 L351.20 208.87 L351.28 209.66 L351.37 210.46 L351.45 211.28 L351.53 212.11 L351.61 212.96 L351.67 213.60 L351.74 214.26 L351.80 214.93 L351.86 215.60 L351.92 216.29 L351.98 216.98 L352.04 217.69 L352.11 218.41 L352.17 219.14 L352.23 219.88 L352.29 220.63 L352.35 221.40 L352.41 222.18 L352.48 222.97 L352.54 223.78 L352.60 224.60 L352.66 225.44 L352.72 226.30 L352.78 227.17 L352.85 228.05 L352.91 228.96 L352.97 229.88 L353.03 230.83 L353.09 231.79 L353.15 232.78 L353.20 233.45 L353.24 234.13 L353.28 234.82 L353.32 235.52 L353.36 236.23 L353.40 236.95 L353.44 237.68 L353.48 238.43 L353.52 239.19 L353.57 239.96 L353.61 240.75 L353.65 241.55 L353.69 242.36 L353.73 243.19 L353.77 244.04 L353.81 244.90 L353.85 245.78 L353.89 246.67 L353.94 247.59 L353.98 248.52 L354.02 249.48 L354.04 250.00 M357.82 250.00 L357.86 249.02 L357.90 248.09 L357.94 247.18 L357.98 246.29 L358.02 245.41 L358.07 244.55 L358.11 243.71 L358.15 242.88 L358.19 242.07 L358.23 241.27 L358.27 240.49 L358.31 239.72 L358.35 238.97 L358.39 238.22 L358.44 237.49 L358.48 236.77 L358.52 236.07 L358.56 235.37 L358.60 234.68 L358.64 234.01 L358.68 233.34 L358.74 232.37 L358.81 231.41 L358.87 230.47 L358.93 229.55 L358.99 228.65 L359.05 227.77 L359.11 226.91 L359.18 226.06 L359.24 225.23 L359.30 224.42 L359.36 223.61 L359.42 222.83 L359.48 222.06 L359.55 221.30 L359.61 220.55 L359.67 219.82 L359.73 219.09 L359.79 218.38 L359.85 217.68 L359.92 217.00 L359.98 216.32 L360.04 215.65 L360.10 215.00 L360.16 214.35 L360.24 213.50 L360.33 212.67 L360.41 211.85 L360.49 211.05 L360.57 210.26 L360.66 209.49 L360.74 208.73 L360.82 207.98 L360.90 207.24 L360.98 206.52 L361.07 205.81 L361.15 205.11 L361.23 204.42 L361.31 203.75 L361.40 203.08 L361.48 202.42 L361.56 201.77 L361.64 201.14 L361.72 200.51 L361.81 199.89 L361.91 199.12 L362.01 198.37 L362.11 197.64 L362.22 196.91 L362.32 196.20 L362.42 195.50 L362.53 194.81 L362.63 194.13 L362.73 193.46 L362.83 192.80 L362.94 192.15 L363.04 191.51 L363.14 190.88 L363.24 190.26 L363.35 189.65 L363.45 189.04 L363.57 188.33 L363.70 187.63 L363.82 186.94 L363.94 186.26 L364.07 185.59 L364.19 184.93 L364.31 184.28 L364.44 183.64 L364.56 183.01 L364.68 182.39 L364.81 181.77 L364.93 181.17 L365.05 180.57 L365.18 179.99 L365.30 179.41 L365.44 178.74 L365.59 178.08 L365.73 177.44 L365.88 176.80 L366.02 176.17 L366.16 175.56 L366.31 174.95 L366.45 174.34 L366.59 173.75 L366.74 173.17 L366.88 172.59 L367.03 172.02 L367.17 171.46 L367.33 170.83 L367.50 170.20 L367.66 169.59 L367.83 168.98 L367.99 168.38 L368.16 167.79 L368.32 167.21 L368.48 166.64 L368.65 166.07 L368.81 165.51 L368.98 164.96 L369.14 164.42 L369.31 163.88 L369.49 163.28 L369.68 162.70 L369.86 162.12 L370.05 161.54 L370.23 160.98 L370.42 160.42 L370.60 159.87 L370.79 159.33 L370.97 158.79 L371.16 158.26 L371.34 157.74 L371.53 157.23 L371.73 156.66 L371.94 156.10 L372.14 155.55 L372.35 155.00 L372.55 154.47 L372.76 153.94 L372.96 153.41 L373.17 152.90 L373.38 152.38 L373.58 151.88 L373.79 151.38 L374.01 150.84 L374.24 150.30 L374.46 149.78 L374.69 149.25 L374.92 148.74 L375.14 148.23 L375.37 147.73 L375.60 147.23 L375.82 146.74 L376.05 146.26 L376.27 145.78 L376.52 145.26 L376.77 144.75 L377.01 144.25 L377.26 143.75 L377.51 143.26 L377.75 142.77 L378.00 142.29 L378.25 141.82 L378.49 141.35 L378.74 140.88 L378.99 140.42 L379.23 139.97 L379.50 139.48 L379.77 139.00 L380.03 138.53 L380.30 138.06 L380.57 137.60 L380.84 137.14 L381.10 136.68 L381.37 136.23 L381.64 135.79 L381.90 135.35 L382.17 134.92 L382.46 134.46 L382.75 134.00 L383.03 133.55 L383.32 133.10 L383.61 132.66 L383.90 132.22 L384.19 131.79 L384.47 131.36 L384.76 130.94 L385.05 130.52 L385.34 130.11 L385.64 129.67 L385.95 129.23 L386.26 128.80 L386.57 128.38 L386.88 127.96 L387.19 127.54 L387.49 127.13 L387.80 126.72 L388.11 126.32 L388.42 125.92 L388.73 125.52 L389.06 125.11 L389.38 124.69 L389.71 124.29 L390.04 123.88 L390.37 123.48 L390.70 123.08 L391.03 122.69 L391.36 122.30 L391.69 121.92 L392.01 121.54 L392.34 121.16 L392.67 120.79 L393.02 120.40 L393.37 120.01 L393.72 119.62 L394.07 119.24 L394.42 118.87 L394.77 118.49 L395.12 118.12 L395.47 117.76 L395.82 117.39 L396.17 117.03 L396.52 116.68 L396.86 116.32 L397.23 115.96 L397.60 115.59 L397.97 115.23 L398.34 114.87 L398.71 114.51 L399.08 114.16 L399.45 113.81 L399.82 113.46 L400.19 113.12 L400.56 112.78 L400.93 112.44 L401.30 112.11 L401.67 111.78 L402.06 111.43 L402.45 111.09 L402.84 110.75 L403.23 110.42 L403.63 110.08 L404.02 109.75 L404.41 109.42 L404.80 109.10 L405.19 108.78 L405.58 108.46 L405.97 108.14 L406.36 107.83 L406.75 107.52 L407.16 107.20 L407.57 106.88 L407.98 106.56 L408.39 106.24 L408.80 105.93 L409.21 105.62 L409.63 105.31 L410.04 105.01 L410.45 104.70 L410.86 104.41 L411.27 104.11 L411.68 103.81 L412.09 103.52 L412.50 103.23 L412.93 102.93 L413.37 102.63 L413.80 102.34 L414.23 102.04 L414.66 101.75 L415.09 101.46 L415.52 101.17 L415.96 100.89 L416.39 100.61 L416.82 100.33 L417.25 100.05 L417.68 99.78 L418.11 99.50 L418.54 99.23 L418.98 98.96 L419.43 98.68 L419.88 98.41 L420.33 98.13 L420.78 97.86 L421.24 97.59 L421.69 97.32 L422.14 97.06 L422.59 96.79 L423.05 96.53 L423.50 96.27 L423.95 96.01 L424.40 95.76 L424.85 95.50 L425.31 95.25 L425.76 95.00 L426.23 94.74 L426.70 94.49 L427.18 94.23 L427.65 93.98 L428.12 93.73 L428.59 93.48 L429.07 93.23 L429.54 92.99 L430.01 92.74 L430.48 92.50 L430.96 92.26 L431.43 92.02 L431.90 91.79 L432.37 91.55 L432.85 91.32 L433.32 91.09 L433.79 90.86 L434.27 90.63 L434.76 90.40 L435.25 90.16 L435.75 89.93 L436.24 89.70 L436.73 89.47 L437.22 89.25 L437.72 89.02 L438.21 88.80 L438.70 88.57 L439.20 88.35 L439.69 88.14 L440.18 87.92 L440.68 87.70 L441.17 87.49 L441.66 87.28 L442.16 87.07 L442.65 86.86 L443.14 86.65 L443.66 86.43 L444.17 86.22 L444.68 86.01 L445.20 85.80 L445.71 85.59 L446.23 85.38 L446.74 85.17 L447.25 84.97 L447.77 84.77 L448.28 84.57 L448.79 84.37 L449.31 84.17 L449.82 83.97 L450.34 83.77 L450.85 83.58 L451.36 83.39 L451.88 83.19 L452.39 83.00 L452.90 82.81 L453.42 82.63 L453.93 82.44 L454.47 82.25 L455.00 82.06 L455.53 81.87 L456.07 81.68 L456.60 81.49 L457.14 81.30 L457.67 81.12 L458.21 80.94 L458.74 80.75 L459.27 80.57 L459.81 80.39 L460.34 80.21 L460.88 80.04 L461.41 79.86 L461.95 79.69 L462.48 79.51 L463.01 79.34 L463.55 79.17 L464.08 79.00 L464.62 78.83 L465.15 78.66 L465.69 78.49 L466.24 78.32 L466.80 78.15 L467.35 77.98 L467.91 77.81 L468.46 77.65 L469.02 77.48 L469.57 77.32 L470.13 77.15 L470.68 76.99 L471.23 76.83 L471.79 76.67 L472.34 76.51 L472.90 76.35 L473.45 76.19 L474.01 76.03 L474.56 75.88 L475.12 75.73 L475.67 75.57 L476.23 75.42 L476.78 75.27 L477.34 75.12 L477.89 74.97 L478.45 74.82 L478.90 74.70"/>
</g>
</g>
<!-- legend -->
<g fill="none" stroke-width="3.3" shape-rendering="crispEdges">
<line x1="100" y1="131.35" x2="152.5" y2="131.35" stroke="#EA5F12"/>
<line x1="100" y1="160.5" x2="150" y2="160.5" stroke="#5D6EC2" stroke-dasharray="7 4.05" stroke-dashoffset="1.1"/>
<line x1="100" y1="189.5" x2="149" y2="189.5" stroke="#FA9800" stroke-dasharray="3 3.94 7 4" stroke-dashoffset="1"/>
</g>
<g class="lg">
<text transform="translate(161,136.3) scale(1.21,0.88)">α</text><text x="171.2" y="136.3">=0</text>
<text transform="translate(161,165.3) scale(1.21,0.88)">α</text><text x="171.2" y="165.3">=0.7</text>
<text transform="translate(161,194.3) scale(1.21,0.88)">α</text><text x="171.2" y="194.3">=0.9</text>
</g>
<g text-anchor="end">
<text x="63.5" y="12.8">1</text>
<text x="63.5" y="43.4">0.500</text>
<text x="63.5" y="115.6">0.100</text>
<text x="63.5" y="145.9">0.050</text>
<text x="63.5" y="217.5">0.010</text>
<text x="63.5" y="248.5">0.005</text>
</g>
<g text-anchor="middle">
<text x="67.9" y="278.8">0.0</text>
<text x="150.1" y="278.8">0.2</text>
<text x="232.3" y="278.8">0.4</text>
<text x="314.5" y="278.8">0.6</text>
<text x="396.7" y="278.8">0.8</text>
<text x="478.9" y="278.8">1.0</text>
<text x="273.5" y="305" style="font-size:13.5px">p</text>
<text transform="translate(13,135) rotate(-90)" x="0" y="0">D</text>
</g>
</svg>
</body></html>
